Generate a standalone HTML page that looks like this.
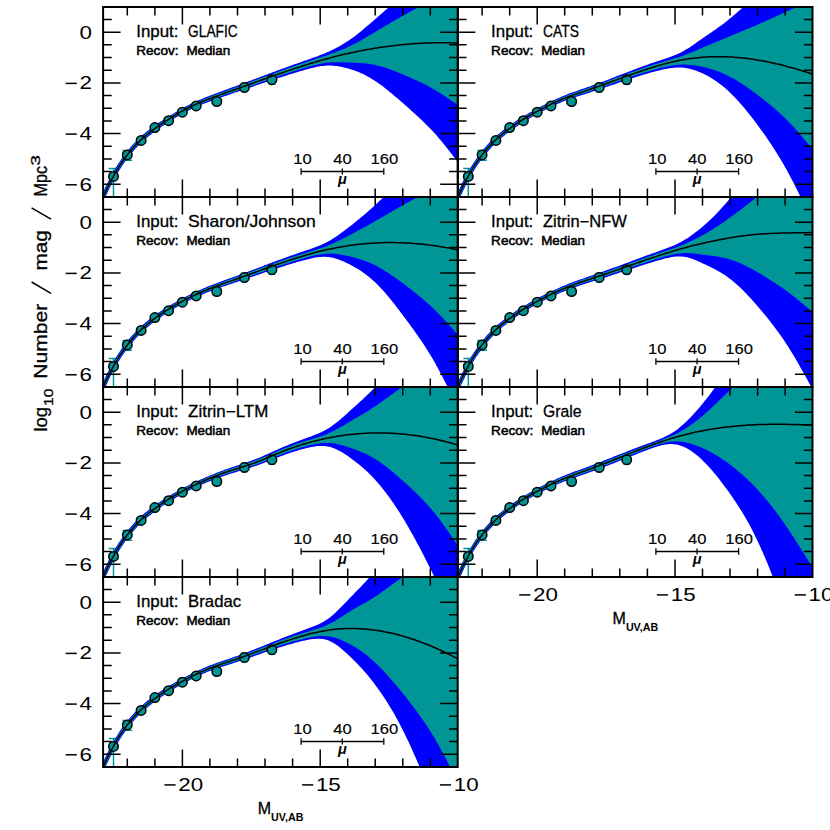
<!DOCTYPE html>
<html><head><meta charset="utf-8"><title>LF recovery</title>
<style>html,body{margin:0;padding:0;background:#fff}svg{display:block}text{font-family:"Liberation Sans",sans-serif;fill:#000}.b{font-weight:bold}.s{stroke:#000;stroke-width:.3px}.s1{stroke:#000;stroke-width:.15px}.s2{stroke:#000;stroke-width:.55px}</style></head><body>
<svg width="830" height="830" viewBox="0 0 830 830">
<rect width="830" height="830" fill="#fff"/>
<defs><clipPath id="clip"><rect x="0" y="0" width="354.6" height="190"/></clipPath></defs>
<g transform="translate(103.1,7)">
<g clip-path="url(#clip)">
<path d="M10.4,161.6 V209.4 M5.5,161.6 h9.8 M5.5,209.4 h9.8 M24.2,143.5 V153.2 M19.3,143.5 h9.8 M19.3,153.2 h9.8 M38,131.4 V135.4 M34.6,131.4 h6.8 M34.6,135.4 h6.8 M51.8,118.6 V122.6 M48.4,118.6 h6.8 M48.4,122.6 h6.8 M65.5,111.7 V115.7 M62.1,111.7 h6.8 M62.1,115.7 h6.8 M79.3,103.2 V107.2 M75.9,103.2 h6.8 M75.9,107.2 h6.8 M93.1,96.9 V100.9 M89.7,96.9 h6.8 M89.7,100.9 h6.8 M113.7,91.5 V97.5 M110.3,91.5 h6.8 M110.3,97.5 h6.8 M141.3,76.2 V84.7 M137.9,76.2 h6.8 M137.9,84.7 h6.8 M168.8,68.5 V77.3 M165.4,68.5 h6.8 M165.4,77.3 h6.8" stroke="#009696" stroke-width="1.5" fill="none"/>
<polygon fill="#0000ff" points="0,185.1 2,180.7 4,176.6 6,172.7 8,168.9 10,165.3 12,161.8 14,158.6 16,155.4 18,152.5 20,149.6 22,146.9 24,144.3 26,141.9 28,139.5 30,137.3 32,135.2 34,133.2 36,131.3 38,129.4 40,127.6 42,125.9 44,124.3 46,122.8 48,121.2 50,119.8 52,118.3 54,117 56,115.6 58,114.3 60,113 62,111.7 64,110.4 66,109.1 68,107.9 70,106.7 72,105.4 74,104.3 76,103.1 78,102 80,100.8 82,99.8 84,98.7 86,97.7 88,96.7 90,95.8 92,94.9 94,94 96,93.1 98,92.2 100,91.4 102,90.6 104,89.8 106,89 108,88.2 110,87.5 112,86.7 114,86 116,85.2 118,84.5 120,83.8 122,83 124,82.3 126,81.6 128,80.8 130,80.1 132,79.4 134,78.6 136,77.9 138,77.1 140,76.4 142,75.6 144,74.9 146,74.1 148,73.4 150,72.6 152,71.9 154,71.1 156,70.4 158,69.6 160,68.9 162,68.1 164,67.4 166,66.6 168,65.9 170,65.1 172,64.4 174,63.6 176,62.9 178,62.1 180,61.4 182,60.7 184,59.9 186,59.2 188,58.5 190,57.8 192,57.1 194,56.4 196,55.7 198,55 200,54.3 202,53.6 204,52.9 206,52.2 208,51.5 210,50.8 212,50.1 214,49.4 216,48.6 218,47.8 220,47 222,46.2 224,45.3 226,44.4 228,43.5 230,42.5 232,41.5 234,40.5 236,39.4 238,38.2 240,37.1 242,35.8 244,34.5 246,33.2 248,31.8 250,30.4 252,28.9 254,27.4 256,25.8 258,24.2 260,22.5 262,20.8 264,19.1 266,17.4 268,15.7 270,13.9 272,12.2 274,10.4 276,8.7 278,7 280,5.2 282,3.5 284,1.8 286,0.1 288,-1.5 290,-3.2 292,-4.8 294,-6.5 296,-8.1 298,-9.7 300,-11.3 302,-12.8 304,-14.4 306,-15.9 308,-17.4 310,-19 312,-20.5 314,-22 316,-23.6 318,-25.1 320,-26.7 322,-28.3 324,-30 326,-30 328,-30 330,-30 332,-30 334,-30 336,-30 338,-30 340,-30 342,-30 344,-30 346,-30 348,-30 350,-30 352,-30 354.6,-30 354.6,154.7 352,151.4 350,148.9 348,146.3 346,143.8 344,141.3 342,138.8 340,136.3 338,133.8 336,131.5 334,129.1 332,126.8 330,124.6 328,122.5 326,120.4 324,118.4 322,116.4 320,114.5 318,112.6 316,110.7 314,108.8 312,107 310,105.2 308,103.4 306,101.6 304,99.8 302,98.1 300,96.3 298,94.6 296,92.8 294,91.1 292,89.4 290,87.7 288,86 286,84.4 284,82.7 282,81.2 280,79.6 278,78.1 276,76.7 274,75.3 272,73.9 270,72.7 268,71.4 266,70.3 264,69.2 262,68.1 260,67.1 258,66.2 256,65.3 254,64.5 252,63.7 250,63 248,62.4 246,61.7 244,61.2 242,60.7 240,60.2 238,59.8 236,59.4 234,59.1 232,58.9 230,58.7 228,58.6 226,58.5 224,58.6 222,58.7 220,58.9 218,59.1 216,59.4 214,59.8 212,60.2 210,60.7 208,61.2 206,61.7 204,62.2 202,62.8 200,63.4 198,63.9 196,64.5 194,65.2 192,65.8 190,66.4 188,67 186,67.6 184,68.3 182,68.9 180,69.5 178,70.2 176,70.8 174,71.5 172,72.1 170,72.8 168,73.5 166,74.1 164,74.8 162,75.4 160,76.1 158,76.8 156,77.5 154,78.1 152,78.8 150,79.5 148,80.2 146,80.9 144,81.5 142,82.2 140,82.9 138,83.6 136,84.3 134,85 132,85.6 130,86.3 128,87 126,87.7 124,88.4 122,89 120,89.7 118,90.4 116,91.1 114,91.8 112,92.5 110,93.2 108,93.9 106,94.7 104,95.4 102,96.2 100,97 98,97.8 96,98.7 94,99.5 92,100.4 90,101.3 88,102.3 86,103.3 84,104.3 82,105.3 80,106.4 78,107.5 76,108.7 74,109.8 72,111 70,112.3 68,113.5 66,114.8 64,116.1 62,117.4 60,118.8 58,120.1 56,121.5 54,122.9 52,124.3 50,125.8 48,127.4 46,129 44,130.6 42,132.3 40,134.1 38,136 36,137.9 34,140 32,142.1 30,144.4 28,146.8 26,149.2 24,151.9 22,154.6 20,157.5 18,160.5 16,163.7 14,167.1 12,170.6 10,174.3 8,178.1 6,182.2 4,186.5 2,190.9 0,195.6"/>
<polygon fill="#009696" points="0,187.1 2,182.7 4,178.5 6,174.5 8,170.7 10,167 12,163.5 14,160.2 16,157 18,154 20,151.1 22,148.4 24,145.8 26,143.3 28,141 30,138.7 32,136.6 34,134.5 36,132.6 38,130.7 40,128.9 42,127.2 44,125.6 46,124 48,122.4 50,121 52,119.5 54,118.1 56,116.8 58,115.4 60,114.1 62,112.8 64,111.5 66,110.3 68,109 70,107.8 72,106.6 74,105.4 76,104.2 78,103.1 80,102 82,100.9 84,99.8 86,98.8 88,97.9 90,96.9 92,96 94,95.1 96,94.2 98,93.4 100,92.5 102,91.7 104,90.9 106,90.1 108,89.4 110,88.6 112,87.9 114,87.1 116,86.4 118,85.7 120,85 122,84.2 124,83.5 126,82.8 128,82.1 130,81.4 132,80.6 134,79.9 136,79.2 138,78.4 140,77.7 142,77 144,76.2 146,75.5 148,74.8 150,74 152,73.3 154,72.6 156,71.8 158,71.1 160,70.3 162,69.6 164,68.9 166,68.1 168,67.4 170,66.7 172,65.9 174,65.2 176,64.5 178,63.8 180,63.1 182,62.4 184,61.6 186,60.9 188,60.2 190,59.6 192,58.9 194,58.2 196,57.5 198,56.8 200,56.2 202,55.5 204,54.8 206,54.2 208,53.5 210,52.9 212,52.2 214,51.5 216,50.9 218,50.2 220,49.5 222,48.9 224,48.2 226,47.5 228,46.8 230,46.1 232,45.4 234,44.6 236,43.8 238,43 240,42.2 242,41.4 244,40.5 246,39.6 248,38.6 250,37.6 252,36.6 254,35.5 256,34.4 258,33.3 260,32.2 262,31 264,29.8 266,28.6 268,27.4 270,26.2 272,25 274,23.8 276,22.6 278,21.4 280,20.2 282,19 284,17.9 286,16.7 288,15.5 290,14.3 292,13.2 294,12 296,10.9 298,9.7 300,8.6 302,7.5 304,6.4 306,5.3 308,4.2 310,3.1 312,2 314,1 316,-0.1 318,-1.1 320,-2.1 322,-3.1 324,-4 326,-5 328,-5.9 330,-6.8 332,-7.6 334,-8.5 336,-9.3 338,-10.1 340,-10.9 342,-11.7 344,-12.5 346,-13.2 348,-14 350,-14.7 352,-15.5 354.6,-16.4 354.6,97.9 352,96.1 350,94.7 348,93.4 346,92 344,90.7 342,89.3 340,88 338,86.7 336,85.5 334,84.2 332,83 330,81.9 328,80.8 326,79.7 324,78.6 322,77.6 320,76.6 318,75.6 316,74.7 314,73.7 312,72.8 310,71.9 308,71 306,70.1 304,69.2 302,68.4 300,67.5 298,66.7 296,65.9 294,65 292,64.2 290,63.4 288,62.7 286,62 284,61.3 282,60.6 280,60 278,59.4 276,58.9 274,58.4 272,57.9 270,57.5 268,57.2 266,56.9 264,56.6 262,56.4 260,56.2 258,56.1 256,56 254,55.9 252,55.8 250,55.7 248,55.6 246,55.6 244,55.5 242,55.4 240,55.3 238,55.3 236,55.2 234,55.2 232,55.2 230,55.2 228,55.3 226,55.4 224,55.6 222,55.9 220,56.2 218,56.5 216,56.9 214,57.4 212,57.9 210,58.4 208,58.9 206,59.5 204,60.1 202,60.7 200,61.3 198,61.9 196,62.5 194,63.2 192,63.8 190,64.5 188,65.1 186,65.8 184,66.4 182,67.1 180,67.8 178,68.4 176,69.1 174,69.8 172,70.5 170,71.2 168,71.8 166,72.5 164,73.2 162,73.9 160,74.6 158,75.3 156,76 154,76.7 152,77.4 150,78.1 148,78.8 146,79.5 144,80.2 142,80.9 140,81.6 138,82.3 136,83 134,83.7 132,84.4 130,85.1 128,85.8 126,86.4 124,87.1 122,87.8 120,88.5 118,89.2 116,89.9 114,90.6 112,91.3 110,92.1 108,92.8 106,93.6 104,94.3 102,95.1 100,95.9 98,96.7 96,97.6 94,98.4 92,99.3 90,100.2 88,101.2 86,102.2 84,103.2 82,104.2 80,105.3 78,106.4 76,107.6 74,108.7 72,109.9 70,111.2 68,112.4 66,113.7 64,115 62,116.3 60,117.6 58,119 56,120.3 54,121.7 52,123.2 50,124.6 48,126.2 46,127.7 44,129.4 42,131.1 40,132.8 38,134.7 36,136.6 34,138.7 32,140.8 30,143 28,145.3 26,147.8 24,150.4 22,153.1 20,156 18,159 16,162.1 14,165.4 12,168.9 10,172.5 8,176.4 6,180.4 4,184.6 2,189 0,193.6"/>
<circle cx="10.4" cy="169.4" r="4.75" fill="#009696" stroke="#000" stroke-width="1.5"/>
<circle cx="24.2" cy="147.9" r="4.75" fill="#009696" stroke="#000" stroke-width="1.5"/>
<circle cx="38" cy="133.4" r="4.75" fill="#009696" stroke="#000" stroke-width="1.5"/>
<circle cx="51.8" cy="120.6" r="4.75" fill="#009696" stroke="#000" stroke-width="1.5"/>
<circle cx="65.5" cy="113.7" r="4.75" fill="#009696" stroke="#000" stroke-width="1.5"/>
<circle cx="79.3" cy="105.2" r="4.75" fill="#009696" stroke="#000" stroke-width="1.5"/>
<circle cx="93.1" cy="98.9" r="4.75" fill="#009696" stroke="#000" stroke-width="1.5"/>
<circle cx="113.7" cy="94.5" r="4.75" fill="#009696" stroke="#000" stroke-width="1.5"/>
<circle cx="141.3" cy="80.4" r="4.75" fill="#009696" stroke="#000" stroke-width="1.5"/>
<circle cx="168.8" cy="72.7" r="4.75" fill="#009696" stroke="#000" stroke-width="1.5"/>
<polyline fill="none" stroke="#000" stroke-width="1.5" points="0,190.3 2,185.8 4,181.5 6,177.4 8,173.5 10,169.8 12,166.2 14,162.8 16,159.6 18,156.5 20,153.6 22,150.8 24,148.1 26,145.6 28,143.2 30,140.9 32,138.7 34,136.6 36,134.6 38,132.7 40,130.9 42,129.1 44,127.5 46,125.9 48,124.3 50,122.8 52,121.4 54,119.9 56,118.6 58,117.2 60,115.9 62,114.6 64,113.3 66,112 68,110.7 70,109.5 72,108.3 74,107 76,105.9 78,104.7 80,103.6 82,102.5 84,101.5 86,100.5 88,99.5 90,98.6 92,97.6 94,96.8 96,95.9 98,95 100,94.2 102,93.4 104,92.6 106,91.8 108,91.1 110,90.3 112,89.6 114,88.9 116,88.1 118,87.4 120,86.7 122,86 124,85.3 126,84.6 128,83.9 130,83.2 132,82.5 134,81.8 136,81.1 138,80.4 140,79.6 142,78.9 144,78.2 146,77.5 148,76.8 150,76.1 152,75.3 154,74.6 156,73.9 158,73.2 160,72.5 162,71.8 164,71.1 166,70.3 168,69.6 170,68.9 172,68.2 174,67.5 176,66.8 178,66.2 180,65.5 182,64.8 184,64.1 186,63.4 188,62.8 190,62.1 192,61.4 194,60.8 196,60.1 198,59.5 200,58.8 202,58.2 204,57.6 206,57 208,56.3 210,55.7 212,55.1 214,54.5 216,54 218,53.4 220,52.8 222,52.3 224,51.7 226,51.2 228,50.6 230,50.1 232,49.6 234,49.1 236,48.6 238,48.1 240,47.6 242,47.1 244,46.7 246,46.2 248,45.8 250,45.4 252,44.9 254,44.5 256,44.1 258,43.7 260,43.3 262,43 264,42.6 266,42.2 268,41.9 270,41.5 272,41.2 274,40.9 276,40.6 278,40.3 280,40 282,39.7 284,39.4 286,39.2 288,38.9 290,38.7 292,38.4 294,38.2 296,38 298,37.8 300,37.6 302,37.4 304,37.2 306,37.1 308,36.9 310,36.8 312,36.6 314,36.5 316,36.4 318,36.3 320,36.2 322,36.1 324,36 326,35.9 328,35.9 330,35.8 332,35.8 334,35.7 336,35.7 338,35.7 340,35.7 342,35.7 344,35.7 346,35.8 348,35.8 350,35.9 352,35.9 354.6,36"/>
</g>
<path d="M198,164.5 H280.7 M198,161.3 v6.4 M239.2,161.6 v5.8 M280.7,161.3 v6.4" stroke="#000" stroke-width="1.3" fill="none"/>
<text transform="translate(199.4,157.4) scale(1.13,1)" font-size="14.7" text-anchor="middle" class="s1">10</text>
<text transform="translate(239.3,157.4) scale(1.13,1)" font-size="14.7" text-anchor="middle" class="s1">40</text>
<text transform="translate(281.2,157.4) scale(1.13,1)" font-size="14.7" text-anchor="middle" class="s1">160</text>
<text x="239.3" y="176.5" font-size="14.5" font-style="italic" font-weight="bold" text-anchor="middle">μ</text>
<text x="33.2" y="29.5" font-size="16.2" textLength="42.2" lengthAdjust="spacingAndGlyphs" class="s">Input:</text>
<text x="85" y="29.5" font-size="16.2" textLength="49.5" lengthAdjust="spacingAndGlyphs" class="s">GLAFIC</text>
<text x="33.2" y="47.6" font-size="13.5" textLength="42.2" lengthAdjust="spacingAndGlyphs" class="s2">Recov:</text>
<text x="83.3" y="47.6" font-size="13.5" textLength="43.8" lengthAdjust="spacingAndGlyphs" class="s2">Median</text>
<path d="M0,177.3 h17.5 M354.6,177.3 h-17.5 M0,164.6 h8.6 M354.6,164.6 h-8.6 M0,152 h8.6 M354.6,152 h-8.6 M0,139.3 h8.6 M354.6,139.3 h-8.6 M0,126.6 h17.5 M354.6,126.6 h-17.5 M0,113.9 h8.6 M354.6,113.9 h-8.6 M0,101.2 h8.6 M354.6,101.2 h-8.6 M0,88.6 h8.6 M354.6,88.6 h-8.6 M0,75.9 h17.5 M354.6,75.9 h-17.5 M0,63.2 h8.6 M354.6,63.2 h-8.6 M0,50.5 h8.6 M354.6,50.5 h-8.6 M0,37.8 h8.6 M354.6,37.8 h-8.6 M0,25.2 h17.5 M354.6,25.2 h-17.5 M0,12.5 h8.6 M354.6,12.5 h-8.6 M24.2,0 v8.6 M24.2,190 v-8.6 M51.8,0 v8.6 M51.8,190 v-8.6 M79.3,0 v17.5 M79.3,190 v-17.5 M106.8,0 v8.6 M106.8,190 v-8.6 M134.4,0 v8.6 M134.4,190 v-8.6 M161.9,0 v8.6 M161.9,190 v-8.6 M189.5,0 v8.6 M189.5,190 v-8.6 M217.1,0 v17.5 M217.1,190 v-17.5 M244.6,0 v8.6 M244.6,190 v-8.6 M272.1,0 v8.6 M272.1,190 v-8.6 M299.7,0 v8.6 M299.7,190 v-8.6 M327.2,0 v8.6 M327.2,190 v-8.6" stroke="#000" stroke-width="1.5" fill="none"/>
<rect x="0" y="0" width="354.6" height="190" fill="none" stroke="#000" stroke-width="2"/>
<text transform="translate(-23.7,31.7) scale(1.27,1)" font-size="17.6">0</text>
<text transform="translate(-23.7,82.4) scale(1.27,1)" font-size="17.6">2</text><path d="M-26.3,76.4 h-11.2" stroke="#000" stroke-width="1.5"/>
<text transform="translate(-23.7,133.1) scale(1.27,1)" font-size="17.6">4</text><path d="M-26.3,127.1 h-11.2" stroke="#000" stroke-width="1.5"/>
<text transform="translate(-23.7,183.8) scale(1.27,1)" font-size="17.6">6</text><path d="M-26.3,177.8 h-11.2" stroke="#000" stroke-width="1.5"/>
</g>
<g transform="translate(457.9,7)">
<g clip-path="url(#clip)">
<path d="M10.4,161.6 V209.4 M5.5,161.6 h9.8 M5.5,209.4 h9.8 M24.2,143.5 V153.2 M19.3,143.5 h9.8 M19.3,153.2 h9.8 M38,131.4 V135.4 M34.6,131.4 h6.8 M34.6,135.4 h6.8 M51.8,118.6 V122.6 M48.4,118.6 h6.8 M48.4,122.6 h6.8 M65.5,111.7 V115.7 M62.1,111.7 h6.8 M62.1,115.7 h6.8 M79.3,103.2 V107.2 M75.9,103.2 h6.8 M75.9,107.2 h6.8 M93.1,96.9 V100.9 M89.7,96.9 h6.8 M89.7,100.9 h6.8 M113.7,91.5 V97.5 M110.3,91.5 h6.8 M110.3,97.5 h6.8 M141.3,76.2 V84.7 M137.9,76.2 h6.8 M137.9,84.7 h6.8 M168.8,68.5 V77.3 M165.4,68.5 h6.8 M165.4,77.3 h6.8" stroke="#009696" stroke-width="1.5" fill="none"/>
<polygon fill="#0000ff" points="0,185.1 2,180.7 4,176.6 6,172.6 8,168.9 10,165.3 12,161.8 14,158.5 16,155.4 18,152.4 20,149.6 22,146.9 24,144.3 26,141.8 28,139.5 30,137.3 32,135.1 34,133.1 36,131.2 38,129.3 40,127.6 42,125.9 44,124.2 46,122.6 48,121.1 50,119.6 52,118.2 54,116.8 56,115.4 58,114.1 60,112.8 62,111.5 64,110.3 66,109.1 68,107.9 70,106.7 72,105.6 74,104.5 76,103.3 78,102.2 80,101.2 82,100.1 84,99.1 86,98 88,97 90,96 92,95 94,94.1 96,93.1 98,92.2 100,91.3 102,90.4 104,89.5 106,88.7 108,87.9 110,87.1 112,86.3 114,85.6 116,84.9 118,84.2 120,83.5 122,82.8 124,82.1 126,81.5 128,80.8 130,80.1 132,79.4 134,78.6 136,77.9 138,77.2 140,76.4 142,75.7 144,74.9 146,74.2 148,73.4 150,72.7 152,71.9 154,71.1 156,70.4 158,69.6 160,68.8 162,68 164,67.2 166,66.5 168,65.7 170,64.9 172,64.2 174,63.4 176,62.6 178,61.9 180,61.1 182,60.4 184,59.6 186,58.9 188,58.2 190,57.5 192,56.8 194,56.1 196,55.4 198,54.7 200,54.1 202,53.4 204,52.7 206,52.1 208,51.4 210,50.7 212,50 214,49.3 216,48.5 218,47.7 220,46.8 222,45.9 224,44.9 226,43.8 228,42.6 230,41.4 232,40.2 234,38.8 236,37.5 238,36.1 240,34.6 242,33.2 244,31.8 246,30.4 248,29.1 250,27.7 252,26.3 254,24.9 256,23.6 258,22.2 260,20.8 262,19.3 264,17.9 266,16.4 268,14.8 270,13.3 272,11.6 274,10 276,8.3 278,6.6 280,4.8 282,3.1 284,1.3 286,-0.5 288,-2.3 290,-4.2 292,-6 294,-7.8 296,-9.6 298,-11.4 300,-13.1 302,-14.8 304,-16.6 306,-18.3 308,-20 310,-21.7 312,-23.4 314,-25.2 316,-26.9 318,-28.7 320,-30 322,-30 324,-30 326,-30 328,-30 330,-30 332,-30 334,-30 336,-30 338,-30 340,-30 342,-30 344,-30 346,-30 348,-30 350,-30 352,-30 354.6,-30 354.6,215.3 352,209.8 350,205.6 348,201.3 346,197.1 344,192.9 342,188.7 340,184.6 338,180.6 336,176.6 334,172.7 332,168.9 330,165.2 328,161.6 326,158 324,154.6 322,151.3 320,148 318,144.8 316,141.6 314,138.6 312,135.5 310,132.6 308,129.6 306,126.8 304,123.9 302,121.2 300,118.4 298,115.7 296,113.1 294,110.5 292,107.9 290,105.4 288,102.9 286,100.5 284,98.2 282,95.9 280,93.7 278,91.5 276,89.4 274,87.4 272,85.5 270,83.6 268,81.8 266,80.1 264,78.5 262,76.9 260,75.4 258,74 256,72.7 254,71.4 252,70.2 250,69 248,68 246,67 244,66 242,65.2 240,64.4 238,63.6 236,63 234,62.4 232,61.8 230,61.4 228,61.1 226,60.8 224,60.6 222,60.5 220,60.5 218,60.6 216,60.7 214,60.9 212,61.2 210,61.5 208,61.9 206,62.3 204,62.7 202,63.2 200,63.7 198,64.2 196,64.7 194,65.2 192,65.8 190,66.4 188,67 186,67.5 184,68.2 182,68.8 180,69.4 178,70 176,70.7 174,71.3 172,72 170,72.6 168,73.3 166,74 164,74.6 162,75.3 160,76 158,76.7 156,77.4 154,78.1 152,78.7 150,79.4 148,80.1 146,80.8 144,81.5 142,82.2 140,82.8 138,83.5 136,84.2 134,84.8 132,85.5 130,86.2 128,86.8 126,87.4 124,88.1 122,88.7 120,89.3 118,90 116,90.6 114,91.3 112,92 110,92.8 108,93.5 106,94.3 104,95.1 102,96 100,96.8 98,97.7 96,98.6 94,99.6 92,100.5 90,101.5 88,102.5 86,103.5 84,104.6 82,105.6 80,106.7 78,107.8 76,108.9 74,110 72,111.2 70,112.4 68,113.6 66,114.8 64,116.1 62,117.3 60,118.7 58,120 56,121.4 54,122.8 52,124.3 50,125.8 48,127.3 46,128.9 44,130.6 42,132.3 40,134.1 38,136 36,138 34,140 32,142.2 30,144.4 28,146.8 26,149.3 24,151.9 22,154.7 20,157.5 18,160.6 16,163.8 14,167.1 12,170.6 10,174.3 8,178.2 6,182.2 4,186.4 2,190.9 0,195.5"/>
<polygon fill="#009696" points="0,187.1 2,182.7 4,178.5 6,174.5 8,170.7 10,167 12,163.5 14,160.2 16,157 18,154 20,151.2 22,148.4 24,145.8 26,143.3 28,141 30,138.7 32,136.5 34,134.5 36,132.5 38,130.7 40,128.9 42,127.1 44,125.5 46,123.9 48,122.4 50,120.9 52,119.4 54,118 56,116.6 58,115.3 60,114 62,112.7 64,111.5 66,110.2 68,109 70,107.9 72,106.7 74,105.6 76,104.5 78,103.4 80,102.3 82,101.2 84,100.1 86,99.1 88,98.1 90,97.1 92,96.1 94,95.1 96,94.2 98,93.3 100,92.4 102,91.5 104,90.6 106,89.8 108,89 110,88.2 112,87.4 114,86.7 116,86 118,85.3 120,84.6 122,84 124,83.3 126,82.6 128,82 130,81.3 132,80.6 134,79.9 136,79.2 138,78.4 140,77.7 142,77 144,76.3 146,75.5 148,74.8 150,74 152,73.3 154,72.5 156,71.8 158,71 160,70.3 162,69.5 164,68.8 166,68 168,67.3 170,66.6 172,65.8 174,65.1 176,64.4 178,63.7 180,62.9 182,62.2 184,61.5 186,60.9 188,60.2 190,59.5 192,58.9 194,58.2 196,57.6 198,57 200,56.4 202,55.8 204,55.2 206,54.6 208,54 210,53.4 212,52.8 214,52.2 216,51.6 218,51 220,50.4 222,49.7 224,49 226,48.3 228,47.6 230,46.8 232,46 234,45.2 236,44.4 238,43.5 240,42.7 242,41.8 244,41 246,40.1 248,39.3 250,38.4 252,37.6 254,36.8 256,35.9 258,35.1 260,34.3 262,33.5 264,32.6 266,31.8 268,31 270,30.1 272,29.3 274,28.5 276,27.6 278,26.8 280,26 282,25.1 284,24.3 286,23.5 288,22.6 290,21.8 292,20.9 294,20.1 296,19.2 298,18.4 300,17.5 302,16.6 304,15.7 306,14.9 308,14 310,13.1 312,12.2 314,11.3 316,10.4 318,9.5 320,8.6 322,7.7 324,6.7 326,5.8 328,4.9 330,4 332,3 334,2.1 336,1.2 338,0.3 340,-0.7 342,-1.6 344,-2.5 346,-3.4 348,-4.3 350,-5.1 352,-6 354.6,-7 354.6,142.4 352,139.2 350,136.8 348,134.3 346,131.9 344,129.5 342,127.2 340,124.8 338,122.6 336,120.3 334,118.2 332,116 330,114 328,112 326,110 324,108.1 322,106.3 320,104.5 318,102.7 316,101 314,99.3 312,97.6 310,96 308,94.4 306,92.8 304,91.2 302,89.7 300,88.2 298,86.6 296,85.2 294,83.7 292,82.2 290,80.8 288,79.4 286,78.1 284,76.7 282,75.4 280,74.2 278,73 276,71.8 274,70.7 272,69.7 270,68.7 268,67.7 266,66.8 264,65.9 262,65.1 260,64.3 258,63.6 256,62.9 254,62.3 252,61.7 250,61.2 248,60.6 246,60.2 244,59.7 242,59.3 240,58.9 238,58.6 236,58.3 234,58.1 232,57.9 230,57.7 228,57.6 226,57.6 224,57.6 222,57.7 220,57.8 218,58 216,58.3 214,58.6 212,58.9 210,59.3 208,59.7 206,60.2 204,60.6 202,61.1 200,61.7 198,62.2 196,62.7 194,63.3 192,63.9 190,64.5 188,65.1 186,65.7 184,66.3 182,67 180,67.6 178,68.3 176,68.9 174,69.6 172,70.3 170,71 168,71.7 166,72.3 164,73 162,73.7 160,74.4 158,75.1 156,75.9 154,76.6 152,77.3 150,78 148,78.7 146,79.4 144,80.1 142,80.8 140,81.5 138,82.2 136,82.9 134,83.5 132,84.2 130,84.9 128,85.5 126,86.2 124,86.8 122,87.5 120,88.1 118,88.8 116,89.4 114,90.1 112,90.9 110,91.6 108,92.4 106,93.2 104,94 102,94.8 100,95.7 98,96.6 96,97.5 94,98.5 92,99.4 90,100.4 88,101.4 86,102.4 84,103.5 82,104.5 80,105.6 78,106.7 76,107.8 74,109 72,110.1 70,111.3 68,112.5 66,113.7 64,115 62,116.2 60,117.5 58,118.9 56,120.3 54,121.7 52,123.1 50,124.6 48,126.2 46,127.8 44,129.4 42,131.1 40,132.9 38,134.8 36,136.7 34,138.7 32,140.9 30,143.1 28,145.4 26,147.9 24,150.5 22,153.2 20,156.1 18,159 16,162.2 14,165.5 12,169 10,172.6 8,176.4 6,180.4 4,184.6 2,189 0,193.5"/>
<circle cx="10.4" cy="169.4" r="4.75" fill="#009696" stroke="#000" stroke-width="1.5"/>
<circle cx="24.2" cy="147.9" r="4.75" fill="#009696" stroke="#000" stroke-width="1.5"/>
<circle cx="38" cy="133.4" r="4.75" fill="#009696" stroke="#000" stroke-width="1.5"/>
<circle cx="51.8" cy="120.6" r="4.75" fill="#009696" stroke="#000" stroke-width="1.5"/>
<circle cx="65.5" cy="113.7" r="4.75" fill="#009696" stroke="#000" stroke-width="1.5"/>
<circle cx="79.3" cy="105.2" r="4.75" fill="#009696" stroke="#000" stroke-width="1.5"/>
<circle cx="93.1" cy="98.9" r="4.75" fill="#009696" stroke="#000" stroke-width="1.5"/>
<circle cx="113.7" cy="94.5" r="4.75" fill="#009696" stroke="#000" stroke-width="1.5"/>
<circle cx="141.3" cy="80.4" r="4.75" fill="#009696" stroke="#000" stroke-width="1.5"/>
<circle cx="168.8" cy="72.7" r="4.75" fill="#009696" stroke="#000" stroke-width="1.5"/>
<polyline fill="none" stroke="#000" stroke-width="1.5" points="0,190.3 2,185.8 4,181.5 6,177.4 8,173.5 10,169.8 12,166.2 14,162.8 16,159.6 18,156.5 20,153.6 22,150.8 24,148.1 26,145.6 28,143.2 30,140.9 32,138.7 34,136.6 36,134.6 38,132.7 40,130.9 42,129.1 44,127.4 46,125.8 48,124.3 50,122.7 52,121.3 54,119.8 56,118.4 58,117.1 60,115.8 62,114.5 64,113.2 66,112 68,110.8 70,109.6 72,108.4 74,107.3 76,106.1 78,105 80,104 82,102.9 84,101.8 86,100.8 88,99.8 90,98.8 92,97.8 94,96.8 96,95.9 98,95 100,94.1 102,93.2 104,92.3 106,91.5 108,90.7 110,89.9 112,89.2 114,88.4 116,87.7 118,87.1 120,86.4 122,85.7 124,85.1 126,84.4 128,83.8 130,83.1 132,82.4 134,81.7 136,81 138,80.3 140,79.6 142,78.9 144,78.2 146,77.5 148,76.7 150,76 152,75.3 154,74.5 156,73.8 158,73.1 160,72.3 162,71.6 164,70.9 166,70.1 168,69.4 170,68.7 172,68 174,67.3 176,66.6 178,65.9 180,65.2 182,64.5 184,63.8 186,63.1 188,62.5 190,61.8 192,61.2 194,60.6 196,60 198,59.4 200,58.8 202,58.2 204,57.6 206,57.1 208,56.6 210,56 212,55.5 214,55.1 216,54.6 218,54.2 220,53.7 222,53.3 224,53 226,52.6 228,52.3 230,51.9 232,51.6 234,51.4 236,51.1 238,50.9 240,50.7 242,50.5 244,50.3 246,50.2 248,50 250,49.9 252,49.8 254,49.8 256,49.7 258,49.7 260,49.7 262,49.7 264,49.7 266,49.7 268,49.8 270,49.9 272,50 274,50.1 276,50.2 278,50.4 280,50.5 282,50.7 284,50.9 286,51.1 288,51.3 290,51.6 292,51.9 294,52.1 296,52.4 298,52.7 300,53.1 302,53.4 304,53.8 306,54.1 308,54.5 310,54.9 312,55.3 314,55.8 316,56.2 318,56.7 320,57.1 322,57.6 324,58.1 326,58.6 328,59.1 330,59.7 332,60.2 334,60.8 336,61.3 338,61.9 340,62.5 342,63.1 344,63.7 346,64.4 348,65 350,65.6 352,66.3 354.6,67.2"/>
</g>
<path d="M198,164.5 H280.7 M198,161.3 v6.4 M239.2,161.6 v5.8 M280.7,161.3 v6.4" stroke="#000" stroke-width="1.3" fill="none"/>
<text transform="translate(199.4,157.4) scale(1.13,1)" font-size="14.7" text-anchor="middle" class="s1">10</text>
<text transform="translate(239.3,157.4) scale(1.13,1)" font-size="14.7" text-anchor="middle" class="s1">40</text>
<text transform="translate(281.2,157.4) scale(1.13,1)" font-size="14.7" text-anchor="middle" class="s1">160</text>
<text x="239.3" y="176.5" font-size="14.5" font-style="italic" font-weight="bold" text-anchor="middle">μ</text>
<text x="33.2" y="29.5" font-size="16.2" textLength="42.2" lengthAdjust="spacingAndGlyphs" class="s">Input:</text>
<text x="85" y="29.5" font-size="16.2" textLength="36" lengthAdjust="spacingAndGlyphs" class="s">CATS</text>
<text x="33.2" y="47.6" font-size="13.5" textLength="42.2" lengthAdjust="spacingAndGlyphs" class="s2">Recov:</text>
<text x="83.3" y="47.6" font-size="13.5" textLength="43.8" lengthAdjust="spacingAndGlyphs" class="s2">Median</text>
<path d="M0,177.3 h17.5 M354.6,177.3 h-17.5 M0,164.6 h8.6 M354.6,164.6 h-8.6 M0,152 h8.6 M354.6,152 h-8.6 M0,139.3 h8.6 M354.6,139.3 h-8.6 M0,126.6 h17.5 M354.6,126.6 h-17.5 M0,113.9 h8.6 M354.6,113.9 h-8.6 M0,101.2 h8.6 M354.6,101.2 h-8.6 M0,88.6 h8.6 M354.6,88.6 h-8.6 M0,75.9 h17.5 M354.6,75.9 h-17.5 M0,63.2 h8.6 M354.6,63.2 h-8.6 M0,50.5 h8.6 M354.6,50.5 h-8.6 M0,37.8 h8.6 M354.6,37.8 h-8.6 M0,25.2 h17.5 M354.6,25.2 h-17.5 M0,12.5 h8.6 M354.6,12.5 h-8.6 M24.2,0 v8.6 M24.2,190 v-8.6 M51.8,0 v8.6 M51.8,190 v-8.6 M79.3,0 v17.5 M79.3,190 v-17.5 M106.8,0 v8.6 M106.8,190 v-8.6 M134.4,0 v8.6 M134.4,190 v-8.6 M161.9,0 v8.6 M161.9,190 v-8.6 M189.5,0 v8.6 M189.5,190 v-8.6 M217.1,0 v17.5 M217.1,190 v-17.5 M244.6,0 v8.6 M244.6,190 v-8.6 M272.1,0 v8.6 M272.1,190 v-8.6 M299.7,0 v8.6 M299.7,190 v-8.6 M327.2,0 v8.6 M327.2,190 v-8.6" stroke="#000" stroke-width="1.5" fill="none"/>
<rect x="0" y="0" width="354.6" height="190" fill="none" stroke="#000" stroke-width="2"/>
</g>
<g transform="translate(103.1,197)">
<g clip-path="url(#clip)">
<path d="M10.4,161.6 V209.4 M5.5,161.6 h9.8 M5.5,209.4 h9.8 M24.2,143.5 V153.2 M19.3,143.5 h9.8 M19.3,153.2 h9.8 M38,131.4 V135.4 M34.6,131.4 h6.8 M34.6,135.4 h6.8 M51.8,118.6 V122.6 M48.4,118.6 h6.8 M48.4,122.6 h6.8 M65.5,111.7 V115.7 M62.1,111.7 h6.8 M62.1,115.7 h6.8 M79.3,103.2 V107.2 M75.9,103.2 h6.8 M75.9,107.2 h6.8 M93.1,96.9 V100.9 M89.7,96.9 h6.8 M89.7,100.9 h6.8 M113.7,91.5 V97.5 M110.3,91.5 h6.8 M110.3,97.5 h6.8 M141.3,76.2 V84.7 M137.9,76.2 h6.8 M137.9,84.7 h6.8 M168.8,68.5 V77.3 M165.4,68.5 h6.8 M165.4,77.3 h6.8" stroke="#009696" stroke-width="1.5" fill="none"/>
<polygon fill="#0000ff" points="0,185 2,180.7 4,176.6 6,172.7 8,168.9 10,165.3 12,161.9 14,158.6 16,155.5 18,152.5 20,149.7 22,147 24,144.4 26,142 28,139.6 30,137.4 32,135.2 34,133.2 36,131.2 38,129.4 40,127.6 42,125.9 44,124.2 46,122.6 48,121.1 50,119.6 52,118.1 54,116.7 56,115.3 58,114 60,112.7 62,111.4 64,110.2 66,108.9 68,107.7 70,106.6 72,105.4 74,104.3 76,103.2 78,102.1 80,101.1 82,100.1 84,99 86,98 88,97.1 90,96.1 92,95.1 94,94.2 96,93.3 98,92.4 100,91.5 102,90.7 104,89.8 106,89 108,88.2 110,87.4 112,86.7 114,85.9 116,85.2 118,84.4 120,83.7 122,83 124,82.3 126,81.6 128,80.9 130,80.1 132,79.4 134,78.7 136,77.9 138,77.2 140,76.5 142,75.7 144,75 146,74.2 148,73.4 150,72.7 152,71.9 154,71.2 156,70.4 158,69.7 160,68.9 162,68.1 164,67.4 166,66.6 168,65.9 170,65.1 172,64.4 174,63.6 176,62.9 178,62.2 180,61.4 182,60.7 184,60 186,59.3 188,58.6 190,57.9 192,57.2 194,56.5 196,55.8 198,55.1 200,54.4 202,53.8 204,53.1 206,52.4 208,51.7 210,51 212,50.3 214,49.6 216,48.8 218,47.9 220,47 222,46.1 224,45.1 226,44 228,42.8 230,41.6 232,40.3 234,39 236,37.6 238,36.1 240,34.6 242,33.1 244,31.6 246,30 248,28.5 250,26.9 252,25.3 254,23.6 256,22 258,20.3 260,18.7 262,17 264,15.2 266,13.5 268,11.7 270,9.9 272,8 274,6.2 276,4.3 278,2.4 280,0.5 282,-1.4 284,-3.3 286,-5.2 288,-7.1 290,-9.1 292,-11 294,-12.9 296,-14.8 298,-16.8 300,-18.7 302,-20.5 304,-22.4 306,-24.3 308,-26.2 310,-28 312,-29.9 314,-30 316,-30 318,-30 320,-30 322,-30 324,-30 326,-30 328,-30 330,-30 332,-30 334,-30 336,-30 338,-30 340,-30 342,-30 344,-30 346,-30 348,-30 350,-30 352,-30 354.6,-30 354.6,210.4 352,205.2 350,201.2 348,197.1 346,193 344,189 342,185 340,181.1 338,177.2 336,173.4 334,169.7 332,166.1 330,162.6 328,159.2 326,155.9 324,152.7 322,149.6 320,146.6 318,143.6 316,140.7 314,137.8 312,134.9 310,132.1 308,129.4 306,126.6 304,123.9 302,121.2 300,118.6 298,115.9 296,113.3 294,110.7 292,108.1 290,105.5 288,103 286,100.6 284,98.2 282,95.8 280,93.6 278,91.4 276,89.3 274,87.3 272,85.3 270,83.4 268,81.7 266,80 264,78.4 262,76.9 260,75.4 258,74.1 256,72.8 254,71.6 252,70.4 250,69.3 248,68.2 246,67.1 244,66.2 242,65.2 240,64.3 238,63.5 236,62.7 234,62 232,61.4 230,60.8 228,60.4 226,60.1 224,59.9 222,59.8 220,59.8 218,59.9 216,60.1 214,60.3 212,60.6 210,61 208,61.4 206,61.9 204,62.4 202,62.9 200,63.4 198,64 196,64.5 194,65.1 192,65.7 190,66.3 188,66.9 186,67.5 184,68.1 182,68.8 180,69.4 178,70 176,70.7 174,71.3 172,72 170,72.7 168,73.3 166,74 164,74.7 162,75.3 160,76 158,76.7 156,77.4 154,78.1 152,78.7 150,79.4 148,80.1 146,80.8 144,81.5 142,82.2 140,82.9 138,83.6 136,84.2 134,84.9 132,85.6 130,86.3 128,86.9 126,87.6 124,88.3 122,88.9 120,89.6 118,90.3 116,91 114,91.7 112,92.4 110,93.2 108,93.9 106,94.7 104,95.5 102,96.3 100,97.2 98,98 96,98.9 94,99.8 92,100.7 90,101.7 88,102.6 86,103.6 84,104.6 82,105.6 80,106.7 78,107.7 76,108.8 74,109.9 72,111.1 70,112.2 68,113.4 66,114.7 64,115.9 62,117.2 60,118.5 58,119.9 56,121.3 54,122.7 52,124.2 50,125.7 48,127.3 46,128.9 44,130.6 42,132.3 40,134.1 38,136 36,138 34,140.1 32,142.2 30,144.5 28,146.9 26,149.4 24,152 22,154.7 20,157.6 18,160.6 16,163.8 14,167.1 12,170.6 10,174.3 8,178.1 6,182.1 4,186.4 2,190.8 0,195.4"/>
<polygon fill="#009696" points="0,187 2,182.6 4,178.5 6,174.5 8,170.7 10,167.1 12,163.6 14,160.3 16,157.2 18,154.1 20,151.3 22,148.5 24,145.9 26,143.4 28,141.1 30,138.8 32,136.6 34,134.6 36,132.6 38,130.7 40,128.9 42,127.2 44,125.5 46,123.9 48,122.3 50,120.8 52,119.3 54,117.9 56,116.5 58,115.2 60,113.9 62,112.6 64,111.3 66,110.1 68,108.9 70,107.7 72,106.6 74,105.4 76,104.3 78,103.3 80,102.2 82,101.2 84,100.1 86,99.1 88,98.2 90,97.2 92,96.2 94,95.3 96,94.4 98,93.5 100,92.6 102,91.8 104,90.9 106,90.1 108,89.3 110,88.5 112,87.8 114,87 116,86.3 118,85.6 120,84.9 122,84.2 124,83.5 126,82.8 128,82.1 130,81.3 132,80.6 134,79.9 136,79.2 138,78.5 140,77.7 142,77 144,76.3 146,75.5 148,74.8 150,74.1 152,73.3 154,72.6 156,71.8 158,71.1 160,70.4 162,69.6 164,68.9 166,68.2 168,67.5 170,66.8 172,66 174,65.3 176,64.6 178,63.9 180,63.2 182,62.5 184,61.9 186,61.2 188,60.5 190,59.9 192,59.2 194,58.6 196,57.9 198,57.3 200,56.7 202,56.1 204,55.5 206,54.9 208,54.3 210,53.7 212,53 214,52.4 216,51.8 218,51.1 220,50.4 222,49.7 224,48.9 226,48.1 228,47.3 230,46.4 232,45.5 234,44.6 236,43.6 238,42.6 240,41.6 242,40.5 244,39.5 246,38.4 248,37.4 250,36.3 252,35.3 254,34.2 256,33.1 258,32.1 260,31 262,29.9 264,28.8 266,27.7 268,26.5 270,25.4 272,24.3 274,23.1 276,22 278,20.8 280,19.6 282,18.5 284,17.3 286,16.1 288,15 290,13.8 292,12.6 294,11.5 296,10.3 298,9.2 300,8.1 302,6.9 304,5.8 306,4.7 308,3.6 310,2.5 312,1.4 314,0.4 316,-0.7 318,-1.7 320,-2.7 322,-3.7 324,-4.7 326,-5.7 328,-6.6 330,-7.6 332,-8.5 334,-9.4 336,-10.3 338,-11.2 340,-12 342,-12.9 344,-13.7 346,-14.5 348,-15.3 350,-16.1 352,-16.9 354.6,-17.9 354.6,137.7 352,134.8 350,132.5 348,130.3 346,128 344,125.8 342,123.6 340,121.5 338,119.3 336,117.2 334,115.2 332,113.2 330,111.3 328,109.4 326,107.6 324,105.8 322,104 320,102.3 318,100.6 316,99 314,97.4 312,95.7 310,94.2 308,92.6 306,91.1 304,89.5 302,88 300,86.5 298,85 296,83.6 294,82.1 292,80.7 290,79.2 288,77.9 286,76.5 284,75.2 282,73.9 280,72.7 278,71.5 276,70.4 274,69.3 272,68.3 270,67.3 268,66.4 266,65.5 264,64.7 262,63.9 260,63.2 258,62.6 256,61.9 254,61.4 252,60.8 250,60.3 248,59.8 246,59.3 244,58.9 242,58.4 240,58 238,57.7 236,57.3 234,57.1 232,56.8 230,56.7 228,56.6 226,56.6 224,56.7 222,56.8 220,57 218,57.2 216,57.6 214,57.9 212,58.3 210,58.8 208,59.3 206,59.8 204,60.3 202,60.8 200,61.4 198,62 196,62.6 194,63.2 192,63.8 190,64.4 188,65.1 186,65.7 184,66.4 182,67 180,67.7 178,68.3 176,69 174,69.7 172,70.4 170,71 168,71.7 166,72.4 164,73.1 162,73.8 160,74.5 158,75.2 156,75.9 154,76.6 152,77.3 150,78 148,78.7 146,79.4 144,80.1 142,80.8 140,81.5 138,82.2 136,82.9 134,83.6 132,84.3 130,85 128,85.7 126,86.4 124,87.1 122,87.7 120,88.4 118,89.1 116,89.8 114,90.5 112,91.3 110,92 108,92.8 106,93.6 104,94.4 102,95.2 100,96 98,96.9 96,97.8 94,98.7 92,99.6 90,100.6 88,101.5 86,102.5 84,103.5 82,104.5 80,105.6 78,106.6 76,107.7 74,108.8 72,110 70,111.1 68,112.3 66,113.5 64,114.8 62,116.1 60,117.4 58,118.7 56,120.1 54,121.6 52,123 50,124.5 48,126.1 46,127.7 44,129.3 42,131.1 40,132.9 38,134.7 36,136.7 34,138.7 32,140.9 30,143.1 28,145.5 26,147.9 24,150.5 22,153.2 20,156.1 18,159.1 16,162.2 14,165.5 12,169 10,172.6 8,176.4 6,180.3 4,184.5 2,188.8 0,193.4"/>
<circle cx="10.4" cy="169.4" r="4.75" fill="#009696" stroke="#000" stroke-width="1.5"/>
<circle cx="24.2" cy="147.9" r="4.75" fill="#009696" stroke="#000" stroke-width="1.5"/>
<circle cx="38" cy="133.4" r="4.75" fill="#009696" stroke="#000" stroke-width="1.5"/>
<circle cx="51.8" cy="120.6" r="4.75" fill="#009696" stroke="#000" stroke-width="1.5"/>
<circle cx="65.5" cy="113.7" r="4.75" fill="#009696" stroke="#000" stroke-width="1.5"/>
<circle cx="79.3" cy="105.2" r="4.75" fill="#009696" stroke="#000" stroke-width="1.5"/>
<circle cx="93.1" cy="98.9" r="4.75" fill="#009696" stroke="#000" stroke-width="1.5"/>
<circle cx="113.7" cy="94.5" r="4.75" fill="#009696" stroke="#000" stroke-width="1.5"/>
<circle cx="141.3" cy="80.4" r="4.75" fill="#009696" stroke="#000" stroke-width="1.5"/>
<circle cx="168.8" cy="72.7" r="4.75" fill="#009696" stroke="#000" stroke-width="1.5"/>
<polyline fill="none" stroke="#000" stroke-width="1.5" points="0,190.2 2,185.7 4,181.5 6,177.4 8,173.5 10,169.8 12,166.3 14,162.9 16,159.7 18,156.6 20,153.7 22,150.9 24,148.2 26,145.7 28,143.3 30,141 32,138.8 34,136.7 36,134.6 38,132.7 40,130.9 42,129.1 44,127.4 46,125.8 48,124.2 50,122.7 52,121.2 54,119.7 56,118.3 58,117 60,115.6 62,114.3 64,113.1 66,111.8 68,110.6 70,109.4 72,108.3 74,107.1 76,106 78,105 80,103.9 82,102.8 84,101.8 86,100.8 88,99.8 90,98.9 92,97.9 94,97 96,96.1 98,95.2 100,94.3 102,93.5 104,92.7 106,91.8 108,91.1 110,90.3 112,89.5 114,88.8 116,88.1 118,87.3 120,86.6 122,85.9 124,85.3 126,84.6 128,83.9 130,83.2 132,82.5 134,81.8 136,81.1 138,80.3 140,79.6 142,78.9 144,78.2 146,77.5 148,76.7 150,76 152,75.3 154,74.6 156,73.9 158,73.1 160,72.4 162,71.7 164,71 166,70.3 168,69.6 170,68.9 172,68.2 174,67.5 176,66.8 178,66.1 180,65.4 182,64.7 184,64.1 186,63.4 188,62.8 190,62.1 192,61.5 194,60.8 196,60.2 198,59.6 200,59 202,58.4 204,57.8 206,57.3 208,56.7 210,56.1 212,55.6 214,55.1 216,54.6 218,54.1 220,53.6 222,53.1 224,52.6 226,52.2 228,51.8 230,51.4 232,51 234,50.6 236,50.2 238,49.9 240,49.5 242,49.2 244,48.9 246,48.6 248,48.3 250,48 252,47.8 254,47.5 256,47.3 258,47.1 260,46.9 262,46.7 264,46.5 266,46.4 268,46.2 270,46.1 272,46 274,45.9 276,45.8 278,45.7 280,45.7 282,45.6 284,45.6 286,45.6 288,45.6 290,45.6 292,45.6 294,45.7 296,45.7 298,45.8 300,45.8 302,45.9 304,46 306,46.1 308,46.3 310,46.4 312,46.6 314,46.7 316,46.9 318,47.1 320,47.3 322,47.5 324,47.8 326,48 328,48.3 330,48.5 332,48.8 334,49.1 336,49.4 338,49.7 340,50 342,50.4 344,50.7 346,51.1 348,51.5 350,51.9 352,52.3 354.6,52.8"/>
</g>
<path d="M198,164.5 H280.7 M198,161.3 v6.4 M239.2,161.6 v5.8 M280.7,161.3 v6.4" stroke="#000" stroke-width="1.3" fill="none"/>
<text transform="translate(199.4,157.4) scale(1.13,1)" font-size="14.7" text-anchor="middle" class="s1">10</text>
<text transform="translate(239.3,157.4) scale(1.13,1)" font-size="14.7" text-anchor="middle" class="s1">40</text>
<text transform="translate(281.2,157.4) scale(1.13,1)" font-size="14.7" text-anchor="middle" class="s1">160</text>
<text x="239.3" y="176.5" font-size="14.5" font-style="italic" font-weight="bold" text-anchor="middle">μ</text>
<text x="33.2" y="29.5" font-size="16.2" textLength="42.2" lengthAdjust="spacingAndGlyphs" class="s">Input:</text>
<text x="85" y="29.5" font-size="16.2" textLength="127.7" lengthAdjust="spacingAndGlyphs" class="s">Sharon/Johnson</text>
<text x="33.2" y="47.6" font-size="13.5" textLength="42.2" lengthAdjust="spacingAndGlyphs" class="s2">Recov:</text>
<text x="83.3" y="47.6" font-size="13.5" textLength="43.8" lengthAdjust="spacingAndGlyphs" class="s2">Median</text>
<path d="M0,177.3 h17.5 M354.6,177.3 h-17.5 M0,164.6 h8.6 M354.6,164.6 h-8.6 M0,152 h8.6 M354.6,152 h-8.6 M0,139.3 h8.6 M354.6,139.3 h-8.6 M0,126.6 h17.5 M354.6,126.6 h-17.5 M0,113.9 h8.6 M354.6,113.9 h-8.6 M0,101.2 h8.6 M354.6,101.2 h-8.6 M0,88.6 h8.6 M354.6,88.6 h-8.6 M0,75.9 h17.5 M354.6,75.9 h-17.5 M0,63.2 h8.6 M354.6,63.2 h-8.6 M0,50.5 h8.6 M354.6,50.5 h-8.6 M0,37.8 h8.6 M354.6,37.8 h-8.6 M0,25.2 h17.5 M354.6,25.2 h-17.5 M0,12.5 h8.6 M354.6,12.5 h-8.6 M24.2,0 v8.6 M24.2,190 v-8.6 M51.8,0 v8.6 M51.8,190 v-8.6 M79.3,0 v17.5 M79.3,190 v-17.5 M106.8,0 v8.6 M106.8,190 v-8.6 M134.4,0 v8.6 M134.4,190 v-8.6 M161.9,0 v8.6 M161.9,190 v-8.6 M189.5,0 v8.6 M189.5,190 v-8.6 M217.1,0 v17.5 M217.1,190 v-17.5 M244.6,0 v8.6 M244.6,190 v-8.6 M272.1,0 v8.6 M272.1,190 v-8.6 M299.7,0 v8.6 M299.7,190 v-8.6 M327.2,0 v8.6 M327.2,190 v-8.6" stroke="#000" stroke-width="1.5" fill="none"/>
<rect x="0" y="0" width="354.6" height="190" fill="none" stroke="#000" stroke-width="2"/>
<text transform="translate(-23.7,31.7) scale(1.27,1)" font-size="17.6">0</text>
<text transform="translate(-23.7,82.4) scale(1.27,1)" font-size="17.6">2</text><path d="M-26.3,76.4 h-11.2" stroke="#000" stroke-width="1.5"/>
<text transform="translate(-23.7,133.1) scale(1.27,1)" font-size="17.6">4</text><path d="M-26.3,127.1 h-11.2" stroke="#000" stroke-width="1.5"/>
<text transform="translate(-23.7,183.8) scale(1.27,1)" font-size="17.6">6</text><path d="M-26.3,177.8 h-11.2" stroke="#000" stroke-width="1.5"/>
</g>
<g transform="translate(457.9,197)">
<g clip-path="url(#clip)">
<path d="M10.4,161.6 V209.4 M5.5,161.6 h9.8 M5.5,209.4 h9.8 M24.2,143.5 V153.2 M19.3,143.5 h9.8 M19.3,153.2 h9.8 M38,131.4 V135.4 M34.6,131.4 h6.8 M34.6,135.4 h6.8 M51.8,118.6 V122.6 M48.4,118.6 h6.8 M48.4,122.6 h6.8 M65.5,111.7 V115.7 M62.1,111.7 h6.8 M62.1,115.7 h6.8 M79.3,103.2 V107.2 M75.9,103.2 h6.8 M75.9,107.2 h6.8 M93.1,96.9 V100.9 M89.7,96.9 h6.8 M89.7,100.9 h6.8 M113.7,91.5 V97.5 M110.3,91.5 h6.8 M110.3,97.5 h6.8 M141.3,76.2 V84.7 M137.9,76.2 h6.8 M137.9,84.7 h6.8 M168.8,68.5 V77.3 M165.4,68.5 h6.8 M165.4,77.3 h6.8" stroke="#009696" stroke-width="1.5" fill="none"/>
<polygon fill="#0000ff" points="0,185.1 2,180.7 4,176.6 6,172.7 8,168.9 10,165.3 12,161.8 14,158.6 16,155.4 18,152.5 20,149.6 22,146.9 24,144.3 26,141.9 28,139.5 30,137.3 32,135.2 34,133.2 36,131.2 38,129.4 40,127.6 42,125.9 44,124.2 46,122.7 48,121.1 50,119.7 52,118.2 54,116.8 56,115.5 58,114.1 60,112.8 62,111.5 64,110.3 66,109.1 68,107.9 70,106.7 72,105.6 74,104.4 76,103.3 78,102.3 80,101.2 82,100.1 84,99.1 86,98.1 88,97.1 90,96.1 92,95.1 94,94.1 96,93.2 98,92.3 100,91.4 102,90.5 104,89.6 106,88.8 108,87.9 110,87.1 112,86.3 114,85.5 116,84.8 118,84 120,83.3 122,82.6 124,81.9 126,81.2 128,80.5 130,79.8 132,79.1 134,78.4 136,77.7 138,77 140,76.3 142,75.6 144,74.9 146,74.2 148,73.5 150,72.8 152,72.1 154,71.3 156,70.6 158,69.9 160,69.2 162,68.4 164,67.7 166,66.9 168,66.2 170,65.5 172,64.7 174,64 176,63.2 178,62.5 180,61.8 182,61 184,60.3 186,59.5 188,58.8 190,58.1 192,57.4 194,56.6 196,55.9 198,55.2 200,54.5 202,53.8 204,53.1 206,52.3 208,51.6 210,50.8 212,50.1 214,49.3 216,48.4 218,47.5 220,46.6 222,45.5 224,44.5 226,43.3 228,42.1 230,40.9 232,39.5 234,38.1 236,36.6 238,35.1 240,33.5 242,31.9 244,30.2 246,28.5 248,26.7 250,24.9 252,23.1 254,21.2 256,19.2 258,17.2 260,15.1 262,13 264,10.8 266,8.6 268,6.3 270,4 272,1.6 274,-0.8 276,-3.3 278,-5.8 280,-8.3 282,-10.9 284,-13.6 286,-16.2 288,-19 290,-21.7 292,-24.5 294,-27.3 296,-30 298,-30 300,-30 302,-30 304,-30 306,-30 308,-30 310,-30 312,-30 314,-30 316,-30 318,-30 320,-30 322,-30 324,-30 326,-30 328,-30 330,-30 332,-30 334,-30 336,-30 338,-30 340,-30 342,-30 344,-30 346,-30 348,-30 350,-30 352,-30 354.6,-30 354.6,192 352,187.4 350,183.8 348,180.1 346,176.5 344,172.9 342,169.4 340,165.8 338,162.4 336,159 334,155.7 332,152.4 330,149.3 328,146.2 326,143.2 324,140.3 322,137.5 320,134.7 318,132 316,129.3 314,126.7 312,124.1 310,121.6 308,119.1 306,116.7 304,114.3 302,111.9 300,109.6 298,107.3 296,105 294,102.7 292,100.5 290,98.4 288,96.3 286,94.2 284,92.2 282,90.3 280,88.5 278,86.7 276,84.9 274,83.3 272,81.7 270,80.2 268,78.8 266,77.5 264,76.2 262,75 260,73.9 258,72.8 256,71.7 254,70.7 252,69.7 250,68.8 248,67.8 246,66.9 244,66 242,65 240,64.2 238,63.3 236,62.5 234,61.7 232,61.1 230,60.5 228,60.1 226,59.8 224,59.6 222,59.5 220,59.5 218,59.6 216,59.8 214,60.1 212,60.5 210,60.9 208,61.3 206,61.8 204,62.4 202,62.9 200,63.5 198,64.1 196,64.7 194,65.3 192,65.9 190,66.6 188,67.2 186,67.8 184,68.5 182,69.1 180,69.7 178,70.4 176,71 174,71.7 172,72.3 170,73 168,73.6 166,74.3 164,74.9 162,75.6 160,76.3 158,76.9 156,77.6 154,78.2 152,78.9 150,79.5 148,80.2 146,80.8 144,81.5 142,82.1 140,82.7 138,83.4 136,84 134,84.6 132,85.2 130,85.9 128,86.5 126,87.2 124,87.8 122,88.5 120,89.2 118,89.9 116,90.6 114,91.3 112,92.1 110,92.8 108,93.6 106,94.4 104,95.3 102,96.1 100,97 98,97.9 96,98.8 94,99.7 92,100.7 90,101.6 88,102.6 86,103.6 84,104.6 82,105.7 80,106.8 78,107.8 76,108.9 74,110.1 72,111.2 70,112.4 68,113.6 66,114.8 64,116.1 62,117.3 60,118.7 58,120 56,121.4 54,122.8 52,124.3 50,125.8 48,127.4 46,129 44,130.6 42,132.3 40,134.1 38,136 36,138 34,140 32,142.2 30,144.4 28,146.8 26,149.3 24,151.9 22,154.7 20,157.6 18,160.6 16,163.8 14,167.1 12,170.6 10,174.3 8,178.2 6,182.2 4,186.4 2,190.9 0,195.5"/>
<polygon fill="#009696" points="0,187 2,182.7 4,178.5 6,174.5 8,170.7 10,167 12,163.5 14,160.2 16,157.1 18,154.1 20,151.2 22,148.4 24,145.8 26,143.3 28,141 30,138.7 32,136.6 34,134.5 36,132.6 38,130.7 40,128.9 42,127.2 44,125.5 46,123.9 48,122.4 50,120.9 52,119.4 54,118 56,116.6 58,115.3 60,114 62,112.7 64,111.4 66,110.2 68,109 70,107.8 72,106.7 74,105.6 76,104.5 78,103.4 80,102.3 82,101.2 84,100.2 86,99.2 88,98.2 90,97.2 92,96.2 94,95.2 96,94.3 98,93.4 100,92.5 102,91.6 104,90.7 106,89.9 108,89.1 110,88.2 112,87.5 114,86.7 116,85.9 118,85.2 120,84.5 122,83.7 124,83 126,82.3 128,81.7 130,81 132,80.3 134,79.6 136,79 138,78.3 140,77.6 142,76.9 144,76.2 146,75.6 148,74.9 150,74.2 152,73.5 154,72.8 156,72.1 158,71.3 160,70.6 162,69.9 164,69.2 166,68.5 168,67.8 170,67.1 172,66.3 174,65.6 176,64.9 178,64.2 180,63.5 182,62.8 184,62.1 186,61.4 188,60.7 190,60 192,59.3 194,58.7 196,58 198,57.3 200,56.6 202,56 204,55.3 206,54.6 208,54 210,53.3 212,52.6 214,51.9 216,51.2 218,50.5 220,49.7 222,49 224,48.2 226,47.4 228,46.5 230,45.6 232,44.7 234,43.8 236,42.8 238,41.8 240,40.8 242,39.7 244,38.6 246,37.5 248,36.4 250,35.3 252,34.1 254,32.8 256,31.6 258,30.3 260,29 262,27.7 264,26.3 266,24.9 268,23.5 270,22.1 272,20.6 274,19.1 276,17.7 278,16.2 280,14.7 282,13.2 284,11.7 286,10.2 288,8.6 290,7.1 292,5.6 294,4.1 296,2.5 298,1 300,-0.5 302,-2 304,-3.5 306,-5.1 308,-6.6 310,-8.1 312,-9.6 314,-11.1 316,-12.6 318,-14.2 320,-15.7 322,-17.2 324,-18.8 326,-20.3 328,-21.9 330,-23.5 332,-25.1 334,-26.7 336,-28.3 338,-30 340,-30 342,-30 344,-30 346,-30 348,-30 350,-30 352,-30 354.6,-30 354.6,114.9 352,112.7 350,111.1 348,109.4 346,107.7 344,106.1 342,104.4 340,102.8 338,101.1 336,99.5 334,98 332,96.4 330,94.9 328,93.4 326,92 324,90.6 322,89.2 320,87.9 318,86.5 316,85.2 314,83.9 312,82.7 310,81.4 308,80.2 306,79 304,77.8 302,76.6 300,75.5 298,74.3 296,73.2 294,72.1 292,71 290,69.9 288,68.9 286,67.9 284,67 282,66.1 280,65.3 278,64.5 276,63.7 274,63 272,62.4 270,61.8 268,61.3 266,60.8 264,60.4 262,60 260,59.6 258,59.3 256,59 254,58.7 252,58.5 250,58.2 248,58 246,57.7 244,57.5 242,57.2 240,57 238,56.7 236,56.5 234,56.3 232,56.2 230,56.1 228,56 226,56.1 224,56.2 222,56.4 220,56.6 218,56.9 216,57.3 214,57.7 212,58.2 210,58.7 208,59.2 206,59.8 204,60.4 202,60.9 200,61.6 198,62.2 196,62.8 194,63.4 192,64.1 190,64.7 188,65.4 186,66 184,66.7 182,67.3 180,68 178,68.7 176,69.3 174,70 172,70.7 170,71.4 168,72 166,72.7 164,73.4 162,74.1 160,74.7 158,75.4 156,76.1 154,76.8 152,77.4 150,78.1 148,78.8 146,79.4 144,80.1 142,80.7 140,81.4 138,82 136,82.7 134,83.3 132,84 130,84.6 128,85.3 126,85.9 124,86.6 122,87.3 120,88 118,88.7 116,89.4 114,90.1 112,90.9 110,91.7 108,92.5 106,93.3 104,94.1 102,95 100,95.9 98,96.7 96,97.7 94,98.6 92,99.5 90,100.5 88,101.5 86,102.5 84,103.5 82,104.6 80,105.7 78,106.7 76,107.8 74,109 72,110.1 70,111.3 68,112.5 66,113.7 64,114.9 62,116.2 60,117.5 58,118.9 56,120.3 54,121.7 52,123.1 50,124.6 48,126.2 46,127.8 44,129.4 42,131.1 40,132.9 38,134.8 36,136.7 34,138.7 32,140.9 30,143.1 28,145.4 26,147.9 24,150.5 22,153.2 20,156.1 18,159 16,162.2 14,165.5 12,169 10,172.6 8,176.4 6,180.4 4,184.6 2,189 0,193.5"/>
<circle cx="10.4" cy="169.4" r="4.75" fill="#009696" stroke="#000" stroke-width="1.5"/>
<circle cx="24.2" cy="147.9" r="4.75" fill="#009696" stroke="#000" stroke-width="1.5"/>
<circle cx="38" cy="133.4" r="4.75" fill="#009696" stroke="#000" stroke-width="1.5"/>
<circle cx="51.8" cy="120.6" r="4.75" fill="#009696" stroke="#000" stroke-width="1.5"/>
<circle cx="65.5" cy="113.7" r="4.75" fill="#009696" stroke="#000" stroke-width="1.5"/>
<circle cx="79.3" cy="105.2" r="4.75" fill="#009696" stroke="#000" stroke-width="1.5"/>
<circle cx="93.1" cy="98.9" r="4.75" fill="#009696" stroke="#000" stroke-width="1.5"/>
<circle cx="113.7" cy="94.5" r="4.75" fill="#009696" stroke="#000" stroke-width="1.5"/>
<circle cx="141.3" cy="80.4" r="4.75" fill="#009696" stroke="#000" stroke-width="1.5"/>
<circle cx="168.8" cy="72.7" r="4.75" fill="#009696" stroke="#000" stroke-width="1.5"/>
<polyline fill="none" stroke="#000" stroke-width="1.5" points="0,190.3 2,185.8 4,181.5 6,177.4 8,173.5 10,169.8 12,166.2 14,162.8 16,159.6 18,156.5 20,153.6 22,150.8 24,148.1 26,145.6 28,143.2 30,140.9 32,138.7 34,136.6 36,134.6 38,132.7 40,130.9 42,129.1 44,127.4 46,125.8 48,124.3 50,122.7 52,121.3 54,119.8 56,118.4 58,117.1 60,115.7 62,114.5 64,113.2 66,111.9 68,110.7 70,109.6 72,108.4 74,107.3 76,106.1 78,105.1 80,104 82,102.9 84,101.9 86,100.8 88,99.8 90,98.9 92,97.9 94,96.9 96,96 98,95.1 100,94.2 102,93.3 104,92.4 106,91.6 108,90.8 110,90 112,89.2 114,88.4 116,87.7 118,86.9 120,86.2 122,85.5 124,84.8 126,84.2 128,83.5 130,82.8 132,82.2 134,81.5 136,80.8 138,80.2 140,79.5 142,78.8 144,78.2 146,77.5 148,76.8 150,76.1 152,75.4 154,74.8 156,74.1 158,73.4 160,72.7 162,72 164,71.3 166,70.6 168,69.9 170,69.2 172,68.5 174,67.8 176,67.1 178,66.4 180,65.7 182,65 184,64.3 186,63.6 188,62.9 190,62.2 192,61.6 194,60.9 196,60.2 198,59.6 200,58.9 202,58.2 204,57.6 206,56.9 208,56.3 210,55.7 212,55.1 214,54.5 216,53.9 218,53.3 220,52.7 222,52.1 224,51.5 226,51 228,50.4 230,49.9 232,49.4 234,48.8 236,48.3 238,47.9 240,47.4 242,46.9 244,46.5 246,46 248,45.6 250,45.1 252,44.7 254,44.3 256,43.9 258,43.5 260,43.1 262,42.7 264,42.3 266,41.9 268,41.6 270,41.2 272,40.8 274,40.5 276,40.2 278,39.8 280,39.5 282,39.3 284,39 286,38.7 288,38.5 290,38.2 292,38 294,37.8 296,37.6 298,37.4 300,37.3 302,37.1 304,37 306,36.8 308,36.7 310,36.6 312,36.5 314,36.4 316,36.3 318,36.2 320,36.2 322,36.1 324,36 326,36 328,36 330,35.9 332,35.9 334,35.8 336,35.8 338,35.8 340,35.8 342,35.7 344,35.7 346,35.7 348,35.7 350,35.7 352,35.6 354.6,35.6"/>
</g>
<path d="M198,164.5 H280.7 M198,161.3 v6.4 M239.2,161.6 v5.8 M280.7,161.3 v6.4" stroke="#000" stroke-width="1.3" fill="none"/>
<text transform="translate(199.4,157.4) scale(1.13,1)" font-size="14.7" text-anchor="middle" class="s1">10</text>
<text transform="translate(239.3,157.4) scale(1.13,1)" font-size="14.7" text-anchor="middle" class="s1">40</text>
<text transform="translate(281.2,157.4) scale(1.13,1)" font-size="14.7" text-anchor="middle" class="s1">160</text>
<text x="239.3" y="176.5" font-size="14.5" font-style="italic" font-weight="bold" text-anchor="middle">μ</text>
<text x="33.2" y="29.5" font-size="16.2" textLength="42.2" lengthAdjust="spacingAndGlyphs" class="s">Input:</text>
<text x="85" y="29.5" font-size="16.2" textLength="84" lengthAdjust="spacingAndGlyphs" class="s">Zitrin−NFW</text>
<text x="33.2" y="47.6" font-size="13.5" textLength="42.2" lengthAdjust="spacingAndGlyphs" class="s2">Recov:</text>
<text x="83.3" y="47.6" font-size="13.5" textLength="43.8" lengthAdjust="spacingAndGlyphs" class="s2">Median</text>
<path d="M0,177.3 h17.5 M354.6,177.3 h-17.5 M0,164.6 h8.6 M354.6,164.6 h-8.6 M0,152 h8.6 M354.6,152 h-8.6 M0,139.3 h8.6 M354.6,139.3 h-8.6 M0,126.6 h17.5 M354.6,126.6 h-17.5 M0,113.9 h8.6 M354.6,113.9 h-8.6 M0,101.2 h8.6 M354.6,101.2 h-8.6 M0,88.6 h8.6 M354.6,88.6 h-8.6 M0,75.9 h17.5 M354.6,75.9 h-17.5 M0,63.2 h8.6 M354.6,63.2 h-8.6 M0,50.5 h8.6 M354.6,50.5 h-8.6 M0,37.8 h8.6 M354.6,37.8 h-8.6 M0,25.2 h17.5 M354.6,25.2 h-17.5 M0,12.5 h8.6 M354.6,12.5 h-8.6 M24.2,0 v8.6 M24.2,190 v-8.6 M51.8,0 v8.6 M51.8,190 v-8.6 M79.3,0 v17.5 M79.3,190 v-17.5 M106.8,0 v8.6 M106.8,190 v-8.6 M134.4,0 v8.6 M134.4,190 v-8.6 M161.9,0 v8.6 M161.9,190 v-8.6 M189.5,0 v8.6 M189.5,190 v-8.6 M217.1,0 v17.5 M217.1,190 v-17.5 M244.6,0 v8.6 M244.6,190 v-8.6 M272.1,0 v8.6 M272.1,190 v-8.6 M299.7,0 v8.6 M299.7,190 v-8.6 M327.2,0 v8.6 M327.2,190 v-8.6" stroke="#000" stroke-width="1.5" fill="none"/>
<rect x="0" y="0" width="354.6" height="190" fill="none" stroke="#000" stroke-width="2"/>
</g>
<g transform="translate(103.1,387)">
<g clip-path="url(#clip)">
<path d="M10.4,161.6 V209.4 M5.5,161.6 h9.8 M5.5,209.4 h9.8 M24.2,143.5 V153.2 M19.3,143.5 h9.8 M19.3,153.2 h9.8 M38,131.4 V135.4 M34.6,131.4 h6.8 M34.6,135.4 h6.8 M51.8,118.6 V122.6 M48.4,118.6 h6.8 M48.4,122.6 h6.8 M65.5,111.7 V115.7 M62.1,111.7 h6.8 M62.1,115.7 h6.8 M79.3,103.2 V107.2 M75.9,103.2 h6.8 M75.9,107.2 h6.8 M93.1,96.9 V100.9 M89.7,96.9 h6.8 M89.7,100.9 h6.8 M113.7,91.5 V97.5 M110.3,91.5 h6.8 M110.3,97.5 h6.8 M141.3,76.2 V84.7 M137.9,76.2 h6.8 M137.9,84.7 h6.8 M168.8,68.5 V77.3 M165.4,68.5 h6.8 M165.4,77.3 h6.8" stroke="#009696" stroke-width="1.5" fill="none"/>
<polygon fill="#0000ff" points="0,185.1 2,180.7 4,176.6 6,172.6 8,168.8 10,165.2 12,161.8 14,158.5 16,155.3 18,152.4 20,149.5 22,146.8 24,144.2 26,141.8 28,139.5 30,137.2 32,135.1 34,133.1 36,131.2 38,129.3 40,127.5 42,125.8 44,124.2 46,122.6 48,121.1 50,119.6 52,118.2 54,116.8 56,115.4 58,114.1 60,112.8 62,111.5 64,110.2 66,109 68,107.8 70,106.6 72,105.5 74,104.4 76,103.3 78,102.2 80,101.1 82,100.1 84,99 86,98 88,97 90,96.1 92,95.1 94,94.2 96,93.2 98,92.3 100,91.4 102,90.6 104,89.7 106,88.9 108,88 110,87.2 112,86.4 114,85.6 116,84.9 118,84.1 120,83.4 122,82.6 124,81.9 126,81.2 128,80.5 130,79.9 132,79.2 134,78.5 136,77.9 138,77.2 140,76.5 142,75.9 144,75.2 146,74.5 148,73.8 150,73.1 152,72.3 154,71.5 156,70.7 158,69.9 160,69 162,68.1 164,67.2 166,66.3 168,65.4 170,64.5 172,63.6 174,62.7 176,61.8 178,60.9 180,60.1 182,59.2 184,58.4 186,57.6 188,56.8 190,56 192,55.2 194,54.4 196,53.7 198,53 200,52.2 202,51.5 204,50.8 206,50.1 208,49.4 210,48.6 212,47.8 214,47 216,46.2 218,45.3 220,44.3 222,43.2 224,42.1 226,40.9 228,39.5 230,38.1 232,36.6 234,35 236,33.4 238,31.7 240,29.9 242,28.2 244,26.4 246,24.6 248,22.8 250,21 252,19.2 254,17.4 256,15.6 258,13.8 260,11.9 262,10.1 264,8.1 266,6.2 268,4.2 270,2.2 272,0.1 274,-1.9 276,-4.1 278,-6.2 280,-8.4 282,-10.6 284,-12.9 286,-15.2 288,-17.5 290,-19.9 292,-22.3 294,-24.7 296,-27.2 298,-29.7 300,-30 302,-30 304,-30 306,-30 308,-30 310,-30 312,-30 314,-30 316,-30 318,-30 320,-30 322,-30 324,-30 326,-30 328,-30 330,-30 332,-30 334,-30 336,-30 338,-30 340,-30 342,-30 344,-30 346,-30 348,-30 350,-30 352,-30 354.6,-30 354.6,220 352,220 350,220 348,220 346,220 344,216.3 342,212.1 340,207.9 338,203.7 336,199.6 334,195.4 332,191.3 330,187.2 328,183.2 326,179.2 324,175.2 322,171.2 320,167.3 318,163.4 316,159.6 314,155.9 312,152.2 310,148.5 308,144.9 306,141.4 304,138 302,134.6 300,131.2 298,128 296,124.8 294,121.7 292,118.7 290,115.8 288,112.9 286,110.1 284,107.4 282,104.8 280,102.2 278,99.7 276,97.3 274,95 272,92.8 270,90.6 268,88.5 266,86.5 264,84.5 262,82.7 260,80.9 258,79.2 256,77.5 254,75.9 252,74.4 250,72.9 248,71.4 246,70 244,68.6 242,67.3 240,66 238,64.8 236,63.7 234,62.7 232,61.7 230,60.9 228,60.3 226,59.7 224,59.4 222,59.1 220,58.9 218,58.9 216,59 214,59.1 212,59.4 210,59.7 208,60.1 206,60.5 204,60.9 202,61.4 200,61.9 198,62.5 196,63.1 194,63.7 192,64.3 190,64.9 188,65.6 186,66.2 184,66.9 182,67.6 180,68.4 178,69.1 176,69.9 174,70.6 172,71.4 170,72.2 168,73 166,73.8 164,74.6 162,75.4 160,76.2 158,77 156,77.7 154,78.5 152,79.1 150,79.8 148,80.5 146,81.1 144,81.7 142,82.3 140,82.9 138,83.5 136,84.1 134,84.7 132,85.4 130,86 128,86.6 126,87.2 124,87.9 122,88.5 120,89.2 118,89.9 116,90.6 114,91.4 112,92.1 110,92.9 108,93.7 106,94.5 104,95.3 102,96.2 100,97 98,97.9 96,98.8 94,99.7 92,100.6 90,101.6 88,102.6 86,103.6 84,104.6 82,105.6 80,106.7 78,107.8 76,108.9 74,110 72,111.2 70,112.3 68,113.5 66,114.8 64,116 62,117.3 60,118.6 58,120 56,121.4 54,122.8 52,124.3 50,125.8 48,127.4 46,129 44,130.6 42,132.4 40,134.2 38,136 36,138 34,140 32,142.2 30,144.4 28,146.8 26,149.3 24,151.9 22,154.6 20,157.5 18,160.6 16,163.7 14,167.1 12,170.6 10,174.3 8,178.1 6,182.2 4,186.5 2,190.9 0,195.6"/>
<polygon fill="#009696" points="0,187.1 2,182.7 4,178.5 6,174.5 8,170.6 10,167 12,163.5 14,160.2 16,157 18,154 20,151.1 22,148.4 24,145.8 26,143.3 28,141 30,138.7 32,136.6 34,134.5 36,132.6 38,130.7 40,128.9 42,127.2 44,125.5 46,123.9 48,122.4 50,120.9 52,119.4 54,118 56,116.6 58,115.3 60,114 62,112.7 64,111.4 66,110.2 68,109 70,107.8 72,106.6 74,105.5 76,104.4 78,103.3 80,102.2 82,101.2 84,100.1 86,99.1 88,98.1 90,97.1 92,96.2 94,95.2 96,94.3 98,93.4 100,92.5 102,91.6 104,90.8 106,89.9 108,89.1 110,88.3 112,87.5 114,86.7 116,86 118,85.2 120,84.5 122,83.8 124,83.1 126,82.4 128,81.7 130,81 132,80.4 134,79.7 136,79.1 138,78.4 140,77.8 142,77.1 144,76.5 146,75.8 148,75.1 150,74.4 152,73.7 154,72.9 156,72.1 158,71.3 160,70.5 162,69.7 164,68.8 166,67.9 168,67.1 170,66.2 172,65.3 174,64.5 176,63.6 178,62.8 180,62 182,61.2 184,60.4 186,59.7 188,58.9 190,58.2 192,57.5 194,56.8 196,56.1 198,55.5 200,54.8 202,54.2 204,53.6 206,53 208,52.4 210,51.8 212,51.1 214,50.5 216,49.9 218,49.2 220,48.5 222,47.7 224,46.9 226,46.1 228,45.1 230,44.2 232,43.2 234,42.1 236,41 238,39.8 240,38.7 242,37.5 244,36.3 246,35.1 248,34 250,32.8 252,31.6 254,30.4 256,29.2 258,28.1 260,26.9 262,25.7 264,24.4 266,23.2 268,21.9 270,20.6 272,19.2 274,17.9 276,16.5 278,15.1 280,13.7 282,12.3 284,10.9 286,9.5 288,8 290,6.6 292,5.1 294,3.7 296,2.2 298,0.8 300,-0.6 302,-2 304,-3.4 306,-4.7 308,-6.1 310,-7.4 312,-8.7 314,-10 316,-11.3 318,-12.6 320,-13.9 322,-15.2 324,-16.4 326,-17.7 328,-18.9 330,-20.2 332,-21.5 334,-22.7 336,-24 338,-25.3 340,-26.7 342,-28 344,-29.4 346,-30 348,-30 350,-30 352,-30 354.6,-30 354.6,158.6 352,154.7 350,151.7 348,148.7 346,145.8 344,142.9 342,140 340,137.2 338,134.5 336,131.8 334,129.2 332,126.7 330,124.3 328,121.9 326,119.6 324,117.4 322,115.2 320,113.1 318,111.1 316,109.1 314,107.1 312,105.1 310,103.2 308,101.3 306,99.5 304,97.6 302,95.8 300,94 298,92.3 296,90.5 294,88.8 292,87 290,85.3 288,83.7 286,82.1 284,80.5 282,78.9 280,77.5 278,76 276,74.6 274,73.3 272,72.1 270,70.8 268,69.7 266,68.6 264,67.6 262,66.6 260,65.7 258,64.9 256,64.1 254,63.3 252,62.5 250,61.8 248,61.1 246,60.4 244,59.8 242,59.2 240,58.6 238,58 236,57.5 234,57 232,56.6 230,56.3 228,56.1 226,55.9 224,55.9 222,55.9 220,56 218,56.1 216,56.4 214,56.7 212,57 210,57.4 208,57.9 206,58.3 204,58.8 202,59.4 200,59.9 198,60.5 196,61.1 194,61.8 192,62.4 190,63.1 188,63.7 186,64.4 184,65.1 182,65.9 180,66.6 178,67.4 176,68.2 174,69 172,69.8 170,70.6 168,71.4 166,72.2 164,73.1 162,73.9 160,74.7 158,75.5 156,76.2 154,77 152,77.7 150,78.4 148,79.1 146,79.7 144,80.4 142,81 140,81.6 138,82.2 136,82.8 134,83.4 132,84.1 130,84.7 128,85.3 126,86 124,86.6 122,87.3 120,88 118,88.7 116,89.5 114,90.2 112,91 110,91.7 108,92.5 106,93.3 104,94.2 102,95 100,95.9 98,96.8 96,97.7 94,98.6 92,99.5 90,100.5 88,101.5 86,102.5 84,103.5 82,104.5 80,105.6 78,106.7 76,107.8 74,108.9 72,110 70,111.2 68,112.4 66,113.6 64,114.9 62,116.2 60,117.5 58,118.9 56,120.3 54,121.7 52,123.1 50,124.6 48,126.2 46,127.8 44,129.4 42,131.1 40,132.9 38,134.8 36,136.7 34,138.7 32,140.9 30,143.1 28,145.4 26,147.9 24,150.5 22,153.2 20,156 18,159 16,162.2 14,165.5 12,168.9 10,172.6 8,176.4 6,180.4 4,184.6 2,189 0,193.6"/>
<circle cx="10.4" cy="169.4" r="4.75" fill="#009696" stroke="#000" stroke-width="1.5"/>
<circle cx="24.2" cy="147.9" r="4.75" fill="#009696" stroke="#000" stroke-width="1.5"/>
<circle cx="38" cy="133.4" r="4.75" fill="#009696" stroke="#000" stroke-width="1.5"/>
<circle cx="51.8" cy="120.6" r="4.75" fill="#009696" stroke="#000" stroke-width="1.5"/>
<circle cx="65.5" cy="113.7" r="4.75" fill="#009696" stroke="#000" stroke-width="1.5"/>
<circle cx="79.3" cy="105.2" r="4.75" fill="#009696" stroke="#000" stroke-width="1.5"/>
<circle cx="93.1" cy="98.9" r="4.75" fill="#009696" stroke="#000" stroke-width="1.5"/>
<circle cx="113.7" cy="94.5" r="4.75" fill="#009696" stroke="#000" stroke-width="1.5"/>
<circle cx="141.3" cy="80.4" r="4.75" fill="#009696" stroke="#000" stroke-width="1.5"/>
<circle cx="168.8" cy="72.7" r="4.75" fill="#009696" stroke="#000" stroke-width="1.5"/>
<polyline fill="none" stroke="#000" stroke-width="1.5" points="0,190.3 2,185.8 4,181.5 6,177.4 8,173.5 10,169.8 12,166.2 14,162.8 16,159.6 18,156.5 20,153.6 22,150.8 24,148.1 26,145.6 28,143.2 30,140.9 32,138.7 34,136.6 36,134.6 38,132.7 40,130.9 42,129.1 44,127.5 46,125.8 48,124.3 50,122.8 52,121.3 54,119.8 56,118.4 58,117.1 60,115.7 62,114.4 64,113.2 66,111.9 68,110.7 70,109.5 72,108.3 74,107.2 76,106.1 78,105 80,103.9 82,102.9 84,101.8 86,100.8 88,99.8 90,98.8 92,97.9 94,96.9 96,96 98,95.1 100,94.2 102,93.3 104,92.5 106,91.6 108,90.8 110,90 112,89.2 114,88.5 116,87.7 118,87 120,86.3 122,85.5 124,84.9 126,84.2 128,83.5 130,82.9 132,82.2 134,81.6 136,81 138,80.3 140,79.7 142,79.1 144,78.4 146,77.8 148,77.1 150,76.4 152,75.7 154,74.9 156,74.2 158,73.4 160,72.6 162,71.8 164,70.9 166,70.1 168,69.2 170,68.4 172,67.5 174,66.7 176,65.9 178,65 180,64.2 182,63.5 184,62.7 186,62 188,61.3 190,60.5 192,59.9 194,59.2 196,58.5 198,57.9 200,57.3 202,56.7 204,56.1 206,55.5 208,55 210,54.4 212,53.9 214,53.4 216,52.9 218,52.5 220,52 222,51.6 224,51.2 226,50.8 228,50.4 230,50 232,49.7 234,49.3 236,49 238,48.7 240,48.4 242,48.1 244,47.9 246,47.6 248,47.4 250,47.2 252,47 254,46.8 256,46.7 258,46.5 260,46.4 262,46.3 264,46.2 266,46.1 268,46 270,46 272,46 274,45.9 276,45.9 278,45.9 280,46 282,46 284,46.1 286,46.1 288,46.2 290,46.3 292,46.5 294,46.6 296,46.7 298,46.9 300,47.1 302,47.3 304,47.5 306,47.7 308,48 310,48.2 312,48.5 314,48.8 316,49.1 318,49.4 320,49.8 322,50.1 324,50.5 326,50.9 328,51.3 330,51.7 332,52.1 334,52.5 336,53 338,53.5 340,54 342,54.5 344,55 346,55.5 348,56 350,56.6 352,57.2 354.6,58"/>
</g>
<path d="M198,164.5 H280.7 M198,161.3 v6.4 M239.2,161.6 v5.8 M280.7,161.3 v6.4" stroke="#000" stroke-width="1.3" fill="none"/>
<text transform="translate(199.4,157.4) scale(1.13,1)" font-size="14.7" text-anchor="middle" class="s1">10</text>
<text transform="translate(239.3,157.4) scale(1.13,1)" font-size="14.7" text-anchor="middle" class="s1">40</text>
<text transform="translate(281.2,157.4) scale(1.13,1)" font-size="14.7" text-anchor="middle" class="s1">160</text>
<text x="239.3" y="176.5" font-size="14.5" font-style="italic" font-weight="bold" text-anchor="middle">μ</text>
<text x="33.2" y="29.5" font-size="16.2" textLength="42.2" lengthAdjust="spacingAndGlyphs" class="s">Input:</text>
<text x="85" y="29.5" font-size="16.2" textLength="80.2" lengthAdjust="spacingAndGlyphs" class="s">Zitrin−LTM</text>
<text x="33.2" y="47.6" font-size="13.5" textLength="42.2" lengthAdjust="spacingAndGlyphs" class="s2">Recov:</text>
<text x="83.3" y="47.6" font-size="13.5" textLength="43.8" lengthAdjust="spacingAndGlyphs" class="s2">Median</text>
<path d="M0,177.3 h17.5 M354.6,177.3 h-17.5 M0,164.6 h8.6 M354.6,164.6 h-8.6 M0,152 h8.6 M354.6,152 h-8.6 M0,139.3 h8.6 M354.6,139.3 h-8.6 M0,126.6 h17.5 M354.6,126.6 h-17.5 M0,113.9 h8.6 M354.6,113.9 h-8.6 M0,101.2 h8.6 M354.6,101.2 h-8.6 M0,88.6 h8.6 M354.6,88.6 h-8.6 M0,75.9 h17.5 M354.6,75.9 h-17.5 M0,63.2 h8.6 M354.6,63.2 h-8.6 M0,50.5 h8.6 M354.6,50.5 h-8.6 M0,37.8 h8.6 M354.6,37.8 h-8.6 M0,25.2 h17.5 M354.6,25.2 h-17.5 M0,12.5 h8.6 M354.6,12.5 h-8.6 M24.2,0 v8.6 M24.2,190 v-8.6 M51.8,0 v8.6 M51.8,190 v-8.6 M79.3,0 v17.5 M79.3,190 v-17.5 M106.8,0 v8.6 M106.8,190 v-8.6 M134.4,0 v8.6 M134.4,190 v-8.6 M161.9,0 v8.6 M161.9,190 v-8.6 M189.5,0 v8.6 M189.5,190 v-8.6 M217.1,0 v17.5 M217.1,190 v-17.5 M244.6,0 v8.6 M244.6,190 v-8.6 M272.1,0 v8.6 M272.1,190 v-8.6 M299.7,0 v8.6 M299.7,190 v-8.6 M327.2,0 v8.6 M327.2,190 v-8.6" stroke="#000" stroke-width="1.5" fill="none"/>
<rect x="0" y="0" width="354.6" height="190" fill="none" stroke="#000" stroke-width="2"/>
<text transform="translate(-23.7,31.7) scale(1.27,1)" font-size="17.6">0</text>
<text transform="translate(-23.7,82.4) scale(1.27,1)" font-size="17.6">2</text><path d="M-26.3,76.4 h-11.2" stroke="#000" stroke-width="1.5"/>
<text transform="translate(-23.7,133.1) scale(1.27,1)" font-size="17.6">4</text><path d="M-26.3,127.1 h-11.2" stroke="#000" stroke-width="1.5"/>
<text transform="translate(-23.7,183.8) scale(1.27,1)" font-size="17.6">6</text><path d="M-26.3,177.8 h-11.2" stroke="#000" stroke-width="1.5"/>
</g>
<g transform="translate(457.9,387)">
<g clip-path="url(#clip)">
<path d="M10.4,161.6 V209.4 M5.5,161.6 h9.8 M5.5,209.4 h9.8 M24.2,143.5 V153.2 M19.3,143.5 h9.8 M19.3,153.2 h9.8 M38,131.4 V135.4 M34.6,131.4 h6.8 M34.6,135.4 h6.8 M51.8,118.6 V122.6 M48.4,118.6 h6.8 M48.4,122.6 h6.8 M65.5,111.7 V115.7 M62.1,111.7 h6.8 M62.1,115.7 h6.8 M79.3,103.2 V107.2 M75.9,103.2 h6.8 M75.9,107.2 h6.8 M93.1,96.9 V100.9 M89.7,96.9 h6.8 M89.7,100.9 h6.8 M113.7,91.5 V97.5 M110.3,91.5 h6.8 M110.3,97.5 h6.8 M141.3,76.2 V84.7 M137.9,76.2 h6.8 M137.9,84.7 h6.8 M168.8,68.5 V77.3 M165.4,68.5 h6.8 M165.4,77.3 h6.8" stroke="#009696" stroke-width="1.5" fill="none"/>
<polygon fill="#0000ff" points="0,185 2,180.7 4,176.6 6,172.7 8,169 10,165.4 12,162 14,158.7 16,155.6 18,152.6 20,149.8 22,147.1 24,144.5 26,142 28,139.7 30,137.5 32,135.3 34,133.3 36,131.4 38,129.5 40,127.7 42,126 44,124.4 46,122.8 48,121.2 50,119.8 52,118.3 54,116.9 56,115.5 58,114.2 60,112.9 62,111.6 64,110.3 66,109.1 68,107.9 70,106.7 72,105.6 74,104.4 76,103.3 78,102.2 80,101.1 82,100.1 84,99 86,98 88,97 90,96 92,95 94,94.1 96,93.2 98,92.2 100,91.3 102,90.5 104,89.6 106,88.8 108,87.9 110,87.1 112,86.4 114,85.6 116,84.8 118,84.1 120,83.4 122,82.7 124,81.9 126,81.2 128,80.5 130,79.7 132,79 134,78.2 136,77.5 138,76.7 140,75.9 142,75.2 144,74.4 146,73.6 148,72.8 150,72 152,71.2 154,70.4 156,69.6 158,68.8 160,68 162,67.2 164,66.4 166,65.7 168,64.9 170,64.1 172,63.3 174,62.5 176,61.8 178,61 180,60.3 182,59.5 184,58.8 186,58.1 188,57.3 190,56.6 192,55.9 194,55.1 196,54.4 198,53.6 200,52.8 202,52 204,51.2 206,50.3 208,49.3 210,48.3 212,47.2 214,46 216,44.7 218,43.4 220,41.9 222,40.3 224,38.6 226,36.8 228,34.9 230,33 232,30.9 234,28.9 236,26.7 238,24.5 240,22.2 242,19.9 244,17.5 246,15.1 248,12.6 250,10 252,7.4 254,4.8 256,2 258,-0.7 260,-3.6 262,-6.5 264,-9.4 266,-12.4 268,-15.5 270,-18.6 272,-21.9 274,-25.1 276,-28.5 278,-30 280,-30 282,-30 284,-30 286,-30 288,-30 290,-30 292,-30 294,-30 296,-30 298,-30 300,-30 302,-30 304,-30 306,-30 308,-30 310,-30 312,-30 314,-30 316,-30 318,-30 320,-30 322,-30 324,-30 326,-30 328,-30 330,-30 332,-30 334,-30 336,-30 338,-30 340,-30 342,-30 344,-30 346,-30 348,-30 350,-30 352,-30 354.6,-30 354.6,220 352,220 350,220 348,220 346,220 344,220 342,220 340,220 338,220 336,220 334,220 332,220 330,220 328,220 326,219 324,213.7 322,208.4 320,203.1 318,197.9 316,192.7 314,187.6 312,182.6 310,177.6 308,172.8 306,168.1 304,163.5 302,159 300,154.7 298,150.5 296,146.4 294,142.4 292,138.6 290,134.9 288,131.4 286,128 284,124.7 282,121.5 280,118.4 278,115.3 276,112.4 274,109.5 272,106.6 270,103.8 268,101.1 266,98.4 264,95.7 262,93.1 260,90.6 258,88.1 256,85.7 254,83.3 252,81 250,78.8 248,76.7 246,74.7 244,72.7 242,70.8 240,69.1 238,67.4 236,65.9 234,64.4 232,63.1 230,61.9 228,60.8 226,59.9 224,59.1 222,58.4 220,57.8 218,57.4 216,57.2 214,57.1 212,57.1 210,57.2 208,57.5 206,57.8 204,58.2 202,58.7 200,59.3 198,59.9 196,60.5 194,61.2 192,61.9 190,62.7 188,63.4 186,64.2 184,65 182,65.8 180,66.6 178,67.4 176,68.2 174,69 172,69.8 170,70.6 168,71.4 166,72.2 164,73 162,73.8 160,74.6 158,75.4 156,76.2 154,77 152,77.8 150,78.5 148,79.3 146,80.1 144,80.9 142,81.6 140,82.4 138,83.1 136,83.9 134,84.6 132,85.3 130,86 128,86.7 126,87.4 124,88.1 122,88.8 120,89.5 118,90.2 116,90.9 114,91.6 112,92.3 110,93.1 108,93.9 106,94.6 104,95.5 102,96.3 100,97.1 98,98 96,98.9 94,99.8 92,100.7 90,101.7 88,102.7 86,103.7 84,104.7 82,105.7 80,106.7 78,107.8 76,108.9 74,110 72,111.2 70,112.3 68,113.5 66,114.7 64,116 62,117.3 60,118.6 58,119.9 56,121.3 54,122.7 52,124.2 50,125.7 48,127.2 46,128.8 44,130.5 42,132.2 40,134 38,135.8 36,137.8 34,139.9 32,142 30,144.3 28,146.6 26,149.1 24,151.7 22,154.5 20,157.4 18,160.4 16,163.6 14,166.9 12,170.5 10,174.2 8,178 6,182.1 4,186.4 2,190.9 0,195.6"/>
<polygon fill="#009696" points="0,187 2,182.7 4,178.5 6,174.5 8,170.7 10,167.1 12,163.6 14,160.3 16,157.1 18,154.1 20,151.3 22,148.5 24,145.9 26,143.4 28,141.1 30,138.8 32,136.7 34,134.6 36,132.6 38,130.8 40,129 42,127.2 44,125.6 46,124 48,122.4 50,120.9 52,119.5 54,118.1 56,116.7 58,115.3 60,114 62,112.7 64,111.4 66,110.2 68,109 70,107.8 72,106.7 74,105.5 76,104.4 78,103.3 80,102.2 82,101.2 84,100.1 86,99.1 88,98.1 90,97.1 92,96.2 94,95.2 96,94.3 98,93.4 100,92.5 102,91.6 104,90.7 106,89.9 108,89.1 110,88.3 112,87.5 114,86.8 116,86 118,85.3 120,84.6 122,83.9 124,83.2 126,82.4 128,81.7 130,81 132,80.3 134,79.5 136,78.8 138,78 140,77.2 142,76.5 144,75.7 146,74.9 148,74.1 150,73.3 152,72.6 154,71.8 156,71 158,70.2 160,69.4 162,68.6 164,67.8 166,67.1 168,66.3 170,65.5 172,64.7 174,64 176,63.2 178,62.4 180,61.7 182,60.9 184,60.2 186,59.5 188,58.7 190,58 192,57.3 194,56.6 196,55.9 198,55.1 200,54.4 202,53.7 204,52.9 206,52.1 208,51.3 210,50.5 212,49.7 214,48.8 216,47.9 218,46.9 220,45.9 222,44.8 224,43.7 226,42.5 228,41.2 230,39.9 232,38.6 234,37.2 236,35.8 238,34.3 240,32.7 242,31.1 244,29.4 246,27.7 248,26 250,24.2 252,22.4 254,20.5 256,18.6 258,16.7 260,14.8 262,12.8 264,10.9 266,8.9 268,6.9 270,5 272,3 274,1 276,-1 278,-2.9 280,-4.9 282,-6.9 284,-8.8 286,-10.8 288,-12.8 290,-14.8 292,-16.8 294,-18.8 296,-20.8 298,-22.9 300,-24.9 302,-27 304,-29.2 306,-30 308,-30 310,-30 312,-30 314,-30 316,-30 318,-30 320,-30 322,-30 324,-30 326,-30 328,-30 330,-30 332,-30 334,-30 336,-30 338,-30 340,-30 342,-30 344,-30 346,-30 348,-30 350,-30 352,-30 354.6,-30 354.6,180.1 352,176 350,172.9 348,169.7 346,166.5 344,163.4 342,160.2 340,157.1 338,153.9 336,150.8 334,147.7 332,144.7 330,141.7 328,138.8 326,135.9 324,133 322,130.2 320,127.5 318,124.8 316,122.2 314,119.6 312,117 310,114.5 308,112.1 306,109.7 304,107.4 302,105.2 300,102.9 298,100.8 296,98.7 294,96.6 292,94.7 290,92.7 288,90.9 286,89 284,87.3 282,85.5 280,83.9 278,82.2 276,80.6 274,79.1 272,77.6 270,76.1 268,74.6 266,73.2 264,71.9 262,70.6 260,69.3 258,68.1 256,66.9 254,65.7 252,64.7 250,63.6 248,62.6 246,61.7 244,60.8 242,60 240,59.2 238,58.4 236,57.7 234,57.1 232,56.5 230,56 228,55.5 226,55.1 224,54.8 222,54.5 220,54.4 218,54.4 216,54.4 214,54.6 212,54.8 210,55.2 208,55.6 206,56 204,56.5 202,57.1 200,57.7 198,58.4 196,59.1 194,59.8 192,60.5 190,61.2 188,62 186,62.8 184,63.6 182,64.3 180,65.1 178,65.9 176,66.7 174,67.5 172,68.3 170,69.1 168,70 166,70.8 164,71.6 162,72.4 160,73.2 158,74 156,74.8 154,75.6 152,76.4 150,77.2 148,77.9 146,78.7 144,79.5 142,80.3 140,81 138,81.8 136,82.5 134,83.3 132,84 130,84.7 128,85.5 126,86.2 124,86.9 122,87.6 120,88.3 118,89 116,89.7 114,90.4 112,91.1 110,91.9 108,92.7 106,93.5 104,94.3 102,95.1 100,96 98,96.9 96,97.8 94,98.7 92,99.6 90,100.6 88,101.6 86,102.5 84,103.6 82,104.6 80,105.6 78,106.7 76,107.8 74,108.9 72,110.1 70,111.2 68,112.4 66,113.6 64,114.9 62,116.1 60,117.4 58,118.8 56,120.2 54,121.6 52,123 50,124.5 48,126 46,127.6 44,129.3 42,131 40,132.8 38,134.6 36,136.6 34,138.6 32,140.7 30,142.9 28,145.3 26,147.7 24,150.3 22,153 20,155.9 18,158.9 16,162 14,165.4 12,168.8 10,172.5 8,176.3 6,180.3 4,184.5 2,188.9 0,193.5"/>
<circle cx="10.4" cy="169.4" r="4.75" fill="#009696" stroke="#000" stroke-width="1.5"/>
<circle cx="24.2" cy="147.9" r="4.75" fill="#009696" stroke="#000" stroke-width="1.5"/>
<circle cx="38" cy="133.4" r="4.75" fill="#009696" stroke="#000" stroke-width="1.5"/>
<circle cx="51.8" cy="120.6" r="4.75" fill="#009696" stroke="#000" stroke-width="1.5"/>
<circle cx="65.5" cy="113.7" r="4.75" fill="#009696" stroke="#000" stroke-width="1.5"/>
<circle cx="79.3" cy="105.2" r="4.75" fill="#009696" stroke="#000" stroke-width="1.5"/>
<circle cx="93.1" cy="98.9" r="4.75" fill="#009696" stroke="#000" stroke-width="1.5"/>
<circle cx="113.7" cy="94.5" r="4.75" fill="#009696" stroke="#000" stroke-width="1.5"/>
<circle cx="141.3" cy="80.4" r="4.75" fill="#009696" stroke="#000" stroke-width="1.5"/>
<circle cx="168.8" cy="72.7" r="4.75" fill="#009696" stroke="#000" stroke-width="1.5"/>
<polyline fill="none" stroke="#000" stroke-width="1.5" points="0,190.3 2,185.8 4,181.5 6,177.4 8,173.5 10,169.8 12,166.2 14,162.8 16,159.6 18,156.5 20,153.6 22,150.8 24,148.1 26,145.6 28,143.2 30,140.9 32,138.7 34,136.6 36,134.6 38,132.7 40,130.9 42,129.1 44,127.4 46,125.8 48,124.3 50,122.7 52,121.3 54,119.8 56,118.4 58,117.1 60,115.7 62,114.4 64,113.2 66,111.9 68,110.7 70,109.5 72,108.4 74,107.2 76,106.1 78,105 80,104 82,102.9 84,101.9 86,100.8 88,99.8 90,98.9 92,97.9 94,96.9 96,96 98,95.1 100,94.2 102,93.4 104,92.5 106,91.7 108,90.9 110,90.1 112,89.3 114,88.6 116,87.8 118,87.1 120,86.4 122,85.7 124,85 126,84.3 128,83.6 130,82.8 132,82.1 134,81.4 136,80.6 138,79.8 140,79.1 142,78.3 144,77.5 146,76.8 148,76 150,75.2 152,74.4 154,73.6 156,72.8 158,72 160,71.2 162,70.4 164,69.6 166,68.8 168,68 170,67.2 172,66.4 174,65.6 176,64.9 178,64.1 180,63.3 182,62.5 184,61.8 186,61 188,60.2 190,59.5 192,58.8 194,58 196,57.3 198,56.6 200,55.9 202,55.2 204,54.5 206,53.9 208,53.2 210,52.6 212,51.9 214,51.3 216,50.7 218,50.1 220,49.6 222,49 224,48.5 226,48 228,47.4 230,47 232,46.5 234,46 236,45.6 238,45.1 240,44.7 242,44.3 244,43.9 246,43.5 248,43.1 250,42.8 252,42.4 254,42.1 256,41.8 258,41.5 260,41.2 262,40.9 264,40.6 266,40.4 268,40.1 270,39.9 272,39.7 274,39.4 276,39.2 278,39.1 280,38.9 282,38.7 284,38.5 286,38.4 288,38.3 290,38.1 292,38 294,37.9 296,37.8 298,37.7 300,37.6 302,37.5 304,37.5 306,37.4 308,37.4 310,37.3 312,37.3 314,37.3 316,37.3 318,37.2 320,37.2 322,37.2 324,37.3 326,37.3 328,37.3 330,37.3 332,37.4 334,37.4 336,37.5 338,37.5 340,37.6 342,37.7 344,37.7 346,37.8 348,37.9 350,38 352,38.1 354.6,38.2"/>
</g>
<path d="M198,164.5 H280.7 M198,161.3 v6.4 M239.2,161.6 v5.8 M280.7,161.3 v6.4" stroke="#000" stroke-width="1.3" fill="none"/>
<text transform="translate(199.4,157.4) scale(1.13,1)" font-size="14.7" text-anchor="middle" class="s1">10</text>
<text transform="translate(239.3,157.4) scale(1.13,1)" font-size="14.7" text-anchor="middle" class="s1">40</text>
<text transform="translate(281.2,157.4) scale(1.13,1)" font-size="14.7" text-anchor="middle" class="s1">160</text>
<text x="239.3" y="176.5" font-size="14.5" font-style="italic" font-weight="bold" text-anchor="middle">μ</text>
<text x="33.2" y="29.5" font-size="16.2" textLength="42.2" lengthAdjust="spacingAndGlyphs" class="s">Input:</text>
<text x="85" y="29.5" font-size="16.2" textLength="38.5" lengthAdjust="spacingAndGlyphs" class="s">Grale</text>
<text x="33.2" y="47.6" font-size="13.5" textLength="42.2" lengthAdjust="spacingAndGlyphs" class="s2">Recov:</text>
<text x="83.3" y="47.6" font-size="13.5" textLength="43.8" lengthAdjust="spacingAndGlyphs" class="s2">Median</text>
<path d="M0,177.3 h17.5 M354.6,177.3 h-17.5 M0,164.6 h8.6 M354.6,164.6 h-8.6 M0,152 h8.6 M354.6,152 h-8.6 M0,139.3 h8.6 M354.6,139.3 h-8.6 M0,126.6 h17.5 M354.6,126.6 h-17.5 M0,113.9 h8.6 M354.6,113.9 h-8.6 M0,101.2 h8.6 M354.6,101.2 h-8.6 M0,88.6 h8.6 M354.6,88.6 h-8.6 M0,75.9 h17.5 M354.6,75.9 h-17.5 M0,63.2 h8.6 M354.6,63.2 h-8.6 M0,50.5 h8.6 M354.6,50.5 h-8.6 M0,37.8 h8.6 M354.6,37.8 h-8.6 M0,25.2 h17.5 M354.6,25.2 h-17.5 M0,12.5 h8.6 M354.6,12.5 h-8.6 M24.2,0 v8.6 M24.2,190 v-8.6 M51.8,0 v8.6 M51.8,190 v-8.6 M79.3,0 v17.5 M79.3,190 v-17.5 M106.8,0 v8.6 M106.8,190 v-8.6 M134.4,0 v8.6 M134.4,190 v-8.6 M161.9,0 v8.6 M161.9,190 v-8.6 M189.5,0 v8.6 M189.5,190 v-8.6 M217.1,0 v17.5 M217.1,190 v-17.5 M244.6,0 v8.6 M244.6,190 v-8.6 M272.1,0 v8.6 M272.1,190 v-8.6 M299.7,0 v8.6 M299.7,190 v-8.6 M327.2,0 v8.6 M327.2,190 v-8.6" stroke="#000" stroke-width="1.5" fill="none"/>
<rect x="0" y="0" width="354.6" height="190" fill="none" stroke="#000" stroke-width="2"/>
<text transform="translate(75.1,213.9) scale(1.27,1)" font-size="17.6">20</text><path d="M72.5,207.9 h-11.2" stroke="#000" stroke-width="1.5"/>
<text transform="translate(212.8,213.9) scale(1.27,1)" font-size="17.6">15</text><path d="M210.2,207.9 h-11.2" stroke="#000" stroke-width="1.5"/>
<text transform="translate(350.6,213.9) scale(1.27,1)" font-size="17.6">10</text><path d="M348,207.9 h-11.2" stroke="#000" stroke-width="1.5"/>
<text x="154.6" y="237.3" font-size="16" class="s">M</text>
<text x="168" y="243.8" font-size="10" class="b" textLength="32.3" lengthAdjust="spacingAndGlyphs">UV,AB</text>
</g>
<g transform="translate(103.1,577)">
<g clip-path="url(#clip)">
<path d="M10.4,161.6 V209.4 M5.5,161.6 h9.8 M5.5,209.4 h9.8 M24.2,143.5 V153.2 M19.3,143.5 h9.8 M19.3,153.2 h9.8 M38,131.4 V135.4 M34.6,131.4 h6.8 M34.6,135.4 h6.8 M51.8,118.6 V122.6 M48.4,118.6 h6.8 M48.4,122.6 h6.8 M65.5,111.7 V115.7 M62.1,111.7 h6.8 M62.1,115.7 h6.8 M79.3,103.2 V107.2 M75.9,103.2 h6.8 M75.9,107.2 h6.8 M93.1,96.9 V100.9 M89.7,96.9 h6.8 M89.7,100.9 h6.8 M113.7,91.5 V97.5 M110.3,91.5 h6.8 M110.3,97.5 h6.8 M141.3,76.2 V84.7 M137.9,76.2 h6.8 M137.9,84.7 h6.8 M168.8,68.5 V77.3 M165.4,68.5 h6.8 M165.4,77.3 h6.8" stroke="#009696" stroke-width="1.5" fill="none"/>
<polygon fill="#0000ff" points="0,185.1 2,180.7 4,176.6 6,172.6 8,168.8 10,165.2 12,161.7 14,158.4 16,155.3 18,152.3 20,149.5 22,146.8 24,144.2 26,141.7 28,139.4 30,137.2 32,135 34,133 36,131.1 38,129.2 40,127.5 42,125.8 44,124.1 46,122.5 48,121 50,119.5 52,118.1 54,116.7 56,115.3 58,114 60,112.7 62,111.4 64,110.2 66,109 68,107.8 70,106.6 72,105.5 74,104.3 76,103.2 78,102.2 80,101.1 82,100 84,99 86,98 88,97 90,96 92,95 94,94 96,93.1 98,92.2 100,91.3 102,90.5 104,89.6 106,88.8 108,88 110,87.2 112,86.5 114,85.8 116,85.1 118,84.4 120,83.7 122,83.1 124,82.4 126,81.7 128,81 130,80.3 132,79.6 134,78.9 136,78.2 138,77.5 140,76.7 142,76 144,75.2 146,74.4 148,73.6 150,72.9 152,72.1 154,71.3 156,70.5 158,69.7 160,68.9 162,68.1 164,67.3 166,66.5 168,65.6 170,64.8 172,64 174,63.2 176,62.4 178,61.6 180,60.8 182,60.1 184,59.3 186,58.5 188,57.7 190,57 192,56.2 194,55.5 196,54.7 198,54 200,53.3 202,52.5 204,51.8 206,51.1 208,50.3 210,49.5 212,48.7 214,47.9 216,47 218,46 220,44.9 222,43.7 224,42.4 226,41 228,39.5 230,37.8 232,36 234,34.1 236,32.1 238,30.1 240,28 242,26 244,23.9 246,21.8 248,19.8 250,17.7 252,15.6 254,13.6 256,11.5 258,9.5 260,7.3 262,5.2 264,3 266,0.7 268,-1.7 270,-4.2 272,-6.7 274,-9.3 276,-12 278,-14.7 280,-17.6 282,-20.5 284,-23.5 286,-26.5 288,-29.6 290,-30 292,-30 294,-30 296,-30 298,-30 300,-30 302,-30 304,-30 306,-30 308,-30 310,-30 312,-30 314,-30 316,-30 318,-30 320,-30 322,-30 324,-30 326,-30 328,-30 330,-30 332,-30 334,-30 336,-30 338,-30 340,-30 342,-30 344,-30 346,-30 348,-30 350,-30 352,-30 354.6,-30 354.6,220 352,220 350,220 348,220 346,220 344,220 342,220 340,220 338,220 336,220 334,220 332,220 330,220 328,217.4 326,212.6 324,207.8 322,203 320,198.2 318,193.4 316,188.7 314,184.1 312,179.5 310,174.9 308,170.5 306,166.1 304,161.9 302,157.7 300,153.7 298,149.7 296,145.9 294,142.2 292,138.6 290,135.1 288,131.7 286,128.4 284,125.1 282,122 280,119 278,116 276,113.2 274,110.4 272,107.7 270,105 268,102.5 266,100 264,97.6 262,95.3 260,93 258,90.8 256,88.7 254,86.6 252,84.6 250,82.6 248,80.6 246,78.7 244,76.8 242,74.9 240,73.2 238,71.4 236,69.8 234,68.3 232,66.9 230,65.7 228,64.7 226,63.8 224,63.1 222,62.5 220,62.1 218,61.9 216,61.8 214,61.8 212,61.9 210,62.1 208,62.3 206,62.6 204,63 202,63.4 200,63.8 198,64.3 196,64.8 194,65.3 192,65.8 190,66.4 188,67 186,67.5 184,68.1 182,68.7 180,69.3 178,70 176,70.6 174,71.3 172,71.9 170,72.6 168,73.3 166,73.9 164,74.6 162,75.3 160,76 158,76.7 156,77.4 154,78.1 152,78.8 150,79.5 148,80.2 146,80.9 144,81.6 142,82.3 140,83 138,83.6 136,84.3 134,85 132,85.6 130,86.3 128,86.9 126,87.6 124,88.2 122,88.8 120,89.4 118,90.1 116,90.7 114,91.4 112,92.1 110,92.8 108,93.6 106,94.3 104,95.1 102,96 100,96.8 98,97.7 96,98.6 94,99.5 92,100.5 90,101.5 88,102.5 86,103.5 84,104.5 82,105.6 80,106.7 78,107.7 76,108.9 74,110 72,111.2 70,112.3 68,113.6 66,114.8 64,116.1 62,117.3 60,118.7 58,120 56,121.4 54,122.9 52,124.3 50,125.8 48,127.4 46,129 44,130.7 42,132.4 40,134.2 38,136.1 36,138.1 34,140.1 32,142.3 30,144.5 28,146.9 26,149.4 24,152 22,154.7 20,157.6 18,160.6 16,163.8 14,167.2 12,170.7 10,174.3 8,178.2 6,182.2 4,186.5 2,190.9 0,195.5"/>
<polygon fill="#009696" points="0,187 2,182.7 4,178.5 6,174.5 8,170.6 10,167 12,163.5 14,160.2 16,157 18,154 20,151.1 22,148.4 24,145.8 26,143.3 28,140.9 30,138.7 32,136.5 34,134.5 36,132.5 38,130.6 40,128.9 42,127.1 44,125.5 46,123.9 48,122.3 50,120.8 52,119.4 54,118 56,116.6 58,115.2 60,113.9 62,112.6 64,111.4 66,110.2 68,109 70,107.8 72,106.6 74,105.5 76,104.4 78,103.3 80,102.2 82,101.1 84,100.1 86,99 88,98 90,97 92,96.1 94,95.1 96,94.2 98,93.3 100,92.4 102,91.5 104,90.7 106,89.9 108,89.1 110,88.3 112,87.6 114,86.8 116,86.1 118,85.5 120,84.8 122,84.2 124,83.5 126,82.8 128,82.2 130,81.5 132,80.8 134,80.1 136,79.4 138,78.7 140,77.9 142,77.2 144,76.4 146,75.7 148,74.9 150,74.2 152,73.4 154,72.7 156,71.9 158,71.1 160,70.3 162,69.6 164,68.8 166,68 168,67.3 170,66.5 172,65.8 174,65 176,64.3 178,63.5 180,62.8 182,62.1 184,61.4 186,60.7 188,60 190,59.3 192,58.6 194,58 196,57.3 198,56.7 200,56.1 202,55.5 204,54.9 206,54.3 208,53.7 210,53.1 212,52.4 214,51.8 216,51.2 218,50.5 220,49.7 222,48.9 224,48.1 226,47.1 228,46.1 230,45 232,43.9 234,42.6 236,41.3 238,40 240,38.7 242,37.4 244,36.1 246,34.9 248,33.7 250,32.5 252,31.3 254,30.2 256,29.1 258,28.1 260,27 262,25.9 264,24.7 266,23.5 268,22.3 270,21 272,19.7 274,18.4 276,17 278,15.6 280,14.1 282,12.7 284,11.2 286,9.7 288,8.3 290,6.8 292,5.4 294,4 296,2.6 298,1.3 300,0.1 302,-1.1 304,-2.2 306,-3.3 308,-4.3 310,-5.3 312,-6.2 314,-7.1 316,-8 318,-8.8 320,-9.7 322,-10.5 324,-11.4 326,-12.2 328,-13.1 330,-14.1 332,-15.1 334,-16.2 336,-17.3 338,-18.5 340,-19.7 342,-21 344,-22.3 346,-23.7 348,-25.1 350,-26.6 352,-28 354.6,-30 354.6,204.9 352,199.7 350,195.8 348,191.8 346,187.9 344,184 342,180.2 340,176.4 338,172.7 336,169.1 334,165.5 332,162.1 330,158.7 328,155.5 326,152.3 324,149.3 322,146.3 320,143.3 318,140.5 316,137.7 314,134.9 312,132.2 310,129.5 308,126.9 306,124.3 304,121.7 302,119.2 300,116.7 298,114.3 296,111.8 294,109.4 292,107 290,104.7 288,102.4 286,100.1 284,97.9 282,95.7 280,93.6 278,91.5 276,89.5 274,87.5 272,85.6 270,83.8 268,82 266,80.3 264,78.6 262,77.1 260,75.6 258,74.1 256,72.7 254,71.4 252,70.1 250,68.9 248,67.8 246,66.7 244,65.7 242,64.7 240,63.8 238,62.9 236,62.1 234,61.4 232,60.8 230,60.2 228,59.8 226,59.4 224,59.2 222,59.1 220,59 218,59 216,59.1 214,59.3 212,59.5 210,59.8 208,60.2 206,60.5 204,60.9 202,61.4 200,61.9 198,62.4 196,62.9 194,63.4 192,64 190,64.5 188,65.1 186,65.7 184,66.3 182,67 180,67.6 178,68.3 176,68.9 174,69.6 172,70.3 170,71 168,71.7 166,72.4 164,73.1 162,73.8 160,74.5 158,75.2 156,75.9 154,76.6 152,77.4 150,78.1 148,78.8 146,79.5 144,80.2 142,80.9 140,81.6 138,82.3 136,83 134,83.7 132,84.4 130,85 128,85.7 126,86.3 124,87 122,87.6 120,88.2 118,88.9 116,89.5 114,90.2 112,90.9 110,91.6 108,92.4 106,93.2 104,94 102,94.8 100,95.7 98,96.6 96,97.5 94,98.4 92,99.4 90,100.4 88,101.4 86,102.4 84,103.4 82,104.5 80,105.6 78,106.7 76,107.8 74,108.9 72,110.1 70,111.2 68,112.4 66,113.7 64,114.9 62,116.2 60,117.5 58,118.9 56,120.3 54,121.7 52,123.2 50,124.7 48,126.2 46,127.8 44,129.5 42,131.2 40,133 38,134.8 36,136.8 34,138.8 32,140.9 30,143.2 28,145.5 26,148 24,150.6 22,153.3 20,156.1 18,159.1 16,162.2 14,165.5 12,169 10,172.6 8,176.4 6,180.4 4,184.6 2,188.9 0,193.5"/>
<circle cx="10.4" cy="169.4" r="4.75" fill="#009696" stroke="#000" stroke-width="1.5"/>
<circle cx="24.2" cy="147.9" r="4.75" fill="#009696" stroke="#000" stroke-width="1.5"/>
<circle cx="38" cy="133.4" r="4.75" fill="#009696" stroke="#000" stroke-width="1.5"/>
<circle cx="51.8" cy="120.6" r="4.75" fill="#009696" stroke="#000" stroke-width="1.5"/>
<circle cx="65.5" cy="113.7" r="4.75" fill="#009696" stroke="#000" stroke-width="1.5"/>
<circle cx="79.3" cy="105.2" r="4.75" fill="#009696" stroke="#000" stroke-width="1.5"/>
<circle cx="93.1" cy="98.9" r="4.75" fill="#009696" stroke="#000" stroke-width="1.5"/>
<circle cx="113.7" cy="94.5" r="4.75" fill="#009696" stroke="#000" stroke-width="1.5"/>
<circle cx="141.3" cy="80.4" r="4.75" fill="#009696" stroke="#000" stroke-width="1.5"/>
<circle cx="168.8" cy="72.7" r="4.75" fill="#009696" stroke="#000" stroke-width="1.5"/>
<polyline fill="none" stroke="#000" stroke-width="1.5" points="0,190.3 2,185.8 4,181.5 6,177.4 8,173.5 10,169.8 12,166.2 14,162.8 16,159.6 18,156.5 20,153.6 22,150.8 24,148.1 26,145.6 28,143.2 30,140.9 32,138.7 34,136.6 36,134.6 38,132.7 40,130.9 42,129.1 44,127.5 46,125.8 48,124.3 50,122.7 52,121.3 54,119.8 56,118.4 58,117.1 60,115.7 62,114.4 64,113.2 66,111.9 68,110.7 70,109.5 72,108.3 74,107.2 76,106.1 78,105 80,103.9 82,102.8 84,101.8 86,100.7 88,99.7 90,98.7 92,97.7 94,96.8 96,95.9 98,94.9 100,94.1 102,93.2 104,92.4 106,91.5 108,90.8 110,90 112,89.3 114,88.5 116,87.9 118,87.2 120,86.5 122,85.9 124,85.2 126,84.6 128,83.9 130,83.3 132,82.6 134,81.9 136,81.2 138,80.5 140,79.8 142,79.1 144,78.3 146,77.6 148,76.9 150,76.1 152,75.4 154,74.6 156,73.9 158,73.1 160,72.4 162,71.6 164,70.9 166,70.2 168,69.4 170,68.7 172,68 174,67.2 176,66.5 178,65.8 180,65.1 182,64.4 184,63.7 186,63.1 188,62.4 190,61.8 192,61.1 194,60.5 196,59.9 198,59.3 200,58.7 202,58.2 204,57.6 206,57.1 208,56.6 210,56.1 212,55.7 214,55.2 216,54.8 218,54.4 220,54 222,53.7 224,53.4 226,53.1 228,52.8 230,52.5 232,52.3 234,52.1 236,52 238,51.8 240,51.7 242,51.6 244,51.6 246,51.5 248,51.5 250,51.5 252,51.6 254,51.6 256,51.7 258,51.8 260,51.9 262,52.1 264,52.3 266,52.5 268,52.7 270,52.9 272,53.2 274,53.5 276,53.8 278,54.1 280,54.5 282,54.9 284,55.3 286,55.7 288,56.1 290,56.6 292,57.1 294,57.6 296,58.1 298,58.6 300,59.2 302,59.8 304,60.4 306,61 308,61.7 310,62.3 312,63 314,63.7 316,64.4 318,65.2 320,65.9 322,66.7 324,67.5 326,68.3 328,69.1 330,70 332,70.8 334,71.7 336,72.6 338,73.5 340,74.5 342,75.4 344,76.4 346,77.3 348,78.3 350,79.3 352,80.4 354.6,81.7"/>
</g>
<path d="M198,164.5 H280.7 M198,161.3 v6.4 M239.2,161.6 v5.8 M280.7,161.3 v6.4" stroke="#000" stroke-width="1.3" fill="none"/>
<text transform="translate(199.4,157.4) scale(1.13,1)" font-size="14.7" text-anchor="middle" class="s1">10</text>
<text transform="translate(239.3,157.4) scale(1.13,1)" font-size="14.7" text-anchor="middle" class="s1">40</text>
<text transform="translate(281.2,157.4) scale(1.13,1)" font-size="14.7" text-anchor="middle" class="s1">160</text>
<text x="239.3" y="176.5" font-size="14.5" font-style="italic" font-weight="bold" text-anchor="middle">μ</text>
<text x="33.2" y="29.5" font-size="16.2" textLength="42.2" lengthAdjust="spacingAndGlyphs" class="s">Input:</text>
<text x="85" y="29.5" font-size="16.2" textLength="53.1" lengthAdjust="spacingAndGlyphs" class="s">Bradac</text>
<text x="33.2" y="47.6" font-size="13.5" textLength="42.2" lengthAdjust="spacingAndGlyphs" class="s2">Recov:</text>
<text x="83.3" y="47.6" font-size="13.5" textLength="43.8" lengthAdjust="spacingAndGlyphs" class="s2">Median</text>
<path d="M0,177.3 h17.5 M354.6,177.3 h-17.5 M0,164.6 h8.6 M354.6,164.6 h-8.6 M0,152 h8.6 M354.6,152 h-8.6 M0,139.3 h8.6 M354.6,139.3 h-8.6 M0,126.6 h17.5 M354.6,126.6 h-17.5 M0,113.9 h8.6 M354.6,113.9 h-8.6 M0,101.2 h8.6 M354.6,101.2 h-8.6 M0,88.6 h8.6 M354.6,88.6 h-8.6 M0,75.9 h17.5 M354.6,75.9 h-17.5 M0,63.2 h8.6 M354.6,63.2 h-8.6 M0,50.5 h8.6 M354.6,50.5 h-8.6 M0,37.8 h8.6 M354.6,37.8 h-8.6 M0,25.2 h17.5 M354.6,25.2 h-17.5 M0,12.5 h8.6 M354.6,12.5 h-8.6 M24.2,0 v8.6 M24.2,190 v-8.6 M51.8,0 v8.6 M51.8,190 v-8.6 M79.3,0 v17.5 M79.3,190 v-17.5 M106.8,0 v8.6 M106.8,190 v-8.6 M134.4,0 v8.6 M134.4,190 v-8.6 M161.9,0 v8.6 M161.9,190 v-8.6 M189.5,0 v8.6 M189.5,190 v-8.6 M217.1,0 v17.5 M217.1,190 v-17.5 M244.6,0 v8.6 M244.6,190 v-8.6 M272.1,0 v8.6 M272.1,190 v-8.6 M299.7,0 v8.6 M299.7,190 v-8.6 M327.2,0 v8.6 M327.2,190 v-8.6" stroke="#000" stroke-width="1.5" fill="none"/>
<rect x="0" y="0" width="354.6" height="190" fill="none" stroke="#000" stroke-width="2"/>
<text transform="translate(-23.7,31.7) scale(1.27,1)" font-size="17.6">0</text>
<text transform="translate(-23.7,82.4) scale(1.27,1)" font-size="17.6">2</text><path d="M-26.3,76.4 h-11.2" stroke="#000" stroke-width="1.5"/>
<text transform="translate(-23.7,133.1) scale(1.27,1)" font-size="17.6">4</text><path d="M-26.3,127.1 h-11.2" stroke="#000" stroke-width="1.5"/>
<text transform="translate(-23.7,183.8) scale(1.27,1)" font-size="17.6">6</text><path d="M-26.3,177.8 h-11.2" stroke="#000" stroke-width="1.5"/>
<text transform="translate(75.1,213.9) scale(1.27,1)" font-size="17.6">20</text><path d="M72.5,207.9 h-11.2" stroke="#000" stroke-width="1.5"/>
<text transform="translate(212.8,213.9) scale(1.27,1)" font-size="17.6">15</text><path d="M210.2,207.9 h-11.2" stroke="#000" stroke-width="1.5"/>
<text transform="translate(350.6,213.9) scale(1.27,1)" font-size="17.6">10</text><path d="M348,207.9 h-11.2" stroke="#000" stroke-width="1.5"/>
<text x="154.6" y="237.3" font-size="16" class="s">M</text>
<text x="168" y="243.8" font-size="10" class="b" textLength="32.3" lengthAdjust="spacingAndGlyphs">UV,AB</text>
</g>
<g transform="translate(46.8,432) rotate(-90)" font-size="18.9" class="s">
<text x="0.4" y="0" textLength="24.8" lengthAdjust="spacingAndGlyphs">log</text>
<text x="26.0" y="6.2" font-size="12.6" textLength="17.4" lengthAdjust="spacingAndGlyphs">10</text>
<text x="53.2" y="0" textLength="75" lengthAdjust="spacingAndGlyphs">Number</text>
<text x="161.4" y="0" textLength="40.4" lengthAdjust="spacingAndGlyphs">mag</text>
<text x="235.6" y="0" textLength="30.6" lengthAdjust="spacingAndGlyphs">Mpc</text>
<text x="266.4" y="-6.4" font-size="12.6" textLength="10.4" lengthAdjust="spacingAndGlyphs">3</text>
<path d="M138.6,4.2 L150,-15.2 M212.8,4.2 L224.2,-15.2" stroke="#000" stroke-width="1.5" fill="none"/>
</g>
</svg></body></html>
